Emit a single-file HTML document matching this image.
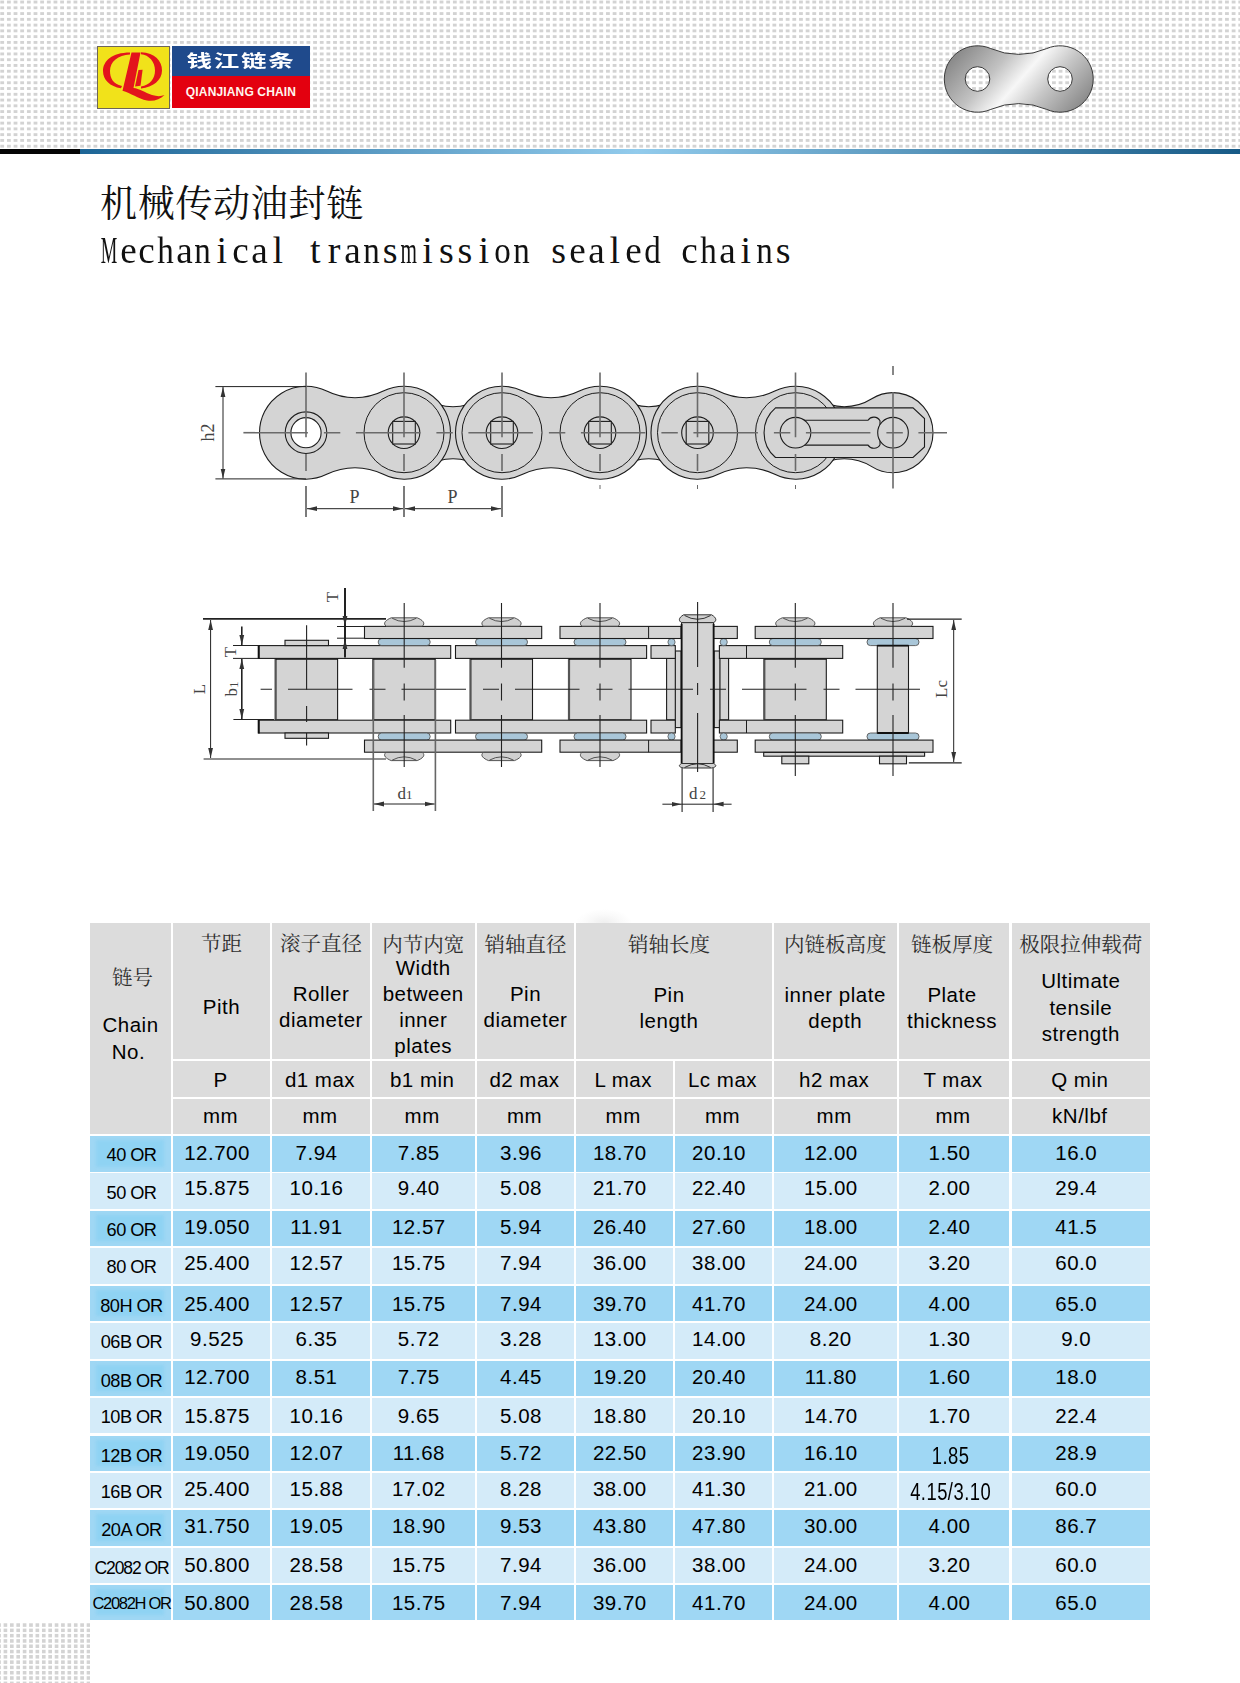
<!DOCTYPE html>
<html lang="zh"><head><meta charset="utf-8"><title>机械传动油封链 Mechanical transmission sealed chains</title>
<style>

html,body{margin:0;padding:0;background:#fff;}
body{width:1240px;height:1683px;position:relative;overflow:hidden;font-family:'Liberation Sans', 'Noto Sans CJK SC', sans-serif;color:#000;}
.a{position:absolute;white-space:nowrap;}
.dots{position:absolute;background-color:#d3d3d3;
 background-image:linear-gradient(90deg, rgba(255,255,255,0) 0, rgba(255,255,255,0) 3.4px, #fff 3.4px, #fff 100%),
  linear-gradient(180deg, rgba(255,255,255,0) 0, rgba(255,255,255,0) 3.1px, #fff 3.1px, #fff 100%);
 background-size:6.67px 5.77px;background-position:0.3px 0.6px;filter:blur(0.5px);}
.hdr{position:absolute;background:#dcdcdc;}
.cell{position:absolute;}
.dk{background:#9fd7f4;}
.lt{background:#d4ebf9;}
.zh{font-family:'Liberation Serif', 'Noto Serif CJK SC', serif;color:#3a3a3a;font-size:20.5px;}
.en{font-family:'Liberation Sans', 'Noto Sans CJK SC', sans-serif;font-size:20.5px;color:#000;}
.t{position:absolute;white-space:nowrap;text-align:center;line-height:1;}

</style></head><body>
<div class="dots" style="left:0;top:0;width:1240px;height:148px;"></div>
<div class="a" style="left:0;top:149px;width:80px;height:5px;background:#050505;"></div>
<div class="a" style="left:80px;top:149px;width:1160px;height:5px;background:linear-gradient(90deg,#1d6596 0%,#92cbec 48%,#175a86 100%);"></div>
<div class="a" style="left:97px;top:46px;width:71px;height:61px;background:#f1e21a;border:1px solid #6e6658;"></div>
<svg class="a" style="left:97px;top:46px" width="74" height="64" viewBox="97 46 74 64">
<g fill="#e3141c">
<path d="M130,52.5 C112,52.5 103,61 103,71 C103,80 110,86.5 121,88.3 L122,86 C113,84 110,78 110,71 C110,62 118,55 130,54.6 Z"/>
<path d="M141,52.3 C155,53 162,61 162,70.5 C162,80 153,87.5 141,88.5 L141,86.5 C150,85 155,78.5 155,70.5 C155,61.5 149,55 141,54.2 Z"/>
<path d="M131.5,52.5 L140.5,52.5 L133.5,88 C139,88.5 145,92.5 152,95 C157,96.5 161,96.5 164.5,95 C160,99.5 154,101.5 147,100.5 C138,99 131,93 122.5,90.8 Z"/>
<path d="M138.5,70 L142.6,69.8 L140.5,85.8 L135,86.5 Z"/>
</g></svg>
<div class="a" style="left:172px;top:46px;width:138px;height:30px;background:#1f4a8c;"></div>
<div class="a" style="left:172px;top:76px;width:138px;height:32px;background:#e3000f;"></div>
<div class="a" style="left:172px;top:47.6px;width:138px;height:24px;font-family:'Noto Sans CJK SC', sans-serif;font-weight:700;font-size:17.6px;color:#fff;line-height:24px;text-align:center;letter-spacing:1.2px;transform:scaleX(1.45);transform-origin:50% 50%;">钱江链条</div>
<div class="a" style="left:172px;top:85px;width:138px;text-align:center;font-family:'Liberation Sans', 'Noto Sans CJK SC', sans-serif;font-weight:700;font-size:12px;line-height:14px;letter-spacing:0.15px;color:#fff6ee;">QIANJIANG CHAIN</div>
<svg class="a" style="left:0;top:0" width="1240" height="150" viewBox="0 0 1240 150">
<defs><linearGradient id="plg" gradientUnits="userSpaceOnUse" x1="972" y1="38" x2="1068" y2="122">
<stop offset="0" stop-color="#8c8c8c"/><stop offset="0.3" stop-color="#c2c2c2"/><stop offset="0.5" stop-color="#f7f7f7"/>
<stop offset="0.7" stop-color="#c6c6c6"/><stop offset="1" stop-color="#8a8a8a"/></linearGradient></defs>
<path fill-rule="evenodd" fill="url(#plg)" stroke="#3a3a3a" stroke-width="1"
 d="M990.77,48.57 A70.03,70.03 0 0 0 1046.73,48.57 A33.2,33.2 0 1 1 1046.73,109.43 A70.03,70.03 0 0 0 990.77,109.43 A33.2,33.2 0 1 1 990.77,48.57 Z M989.8,79 A12.3,12.3 0 1 0 965.2,79 A12.3,12.3 0 1 0 989.8,79 Z M1072.3,79 A12.3,12.3 0 1 0 1047.7,79 A12.3,12.3 0 1 0 1072.3,79 Z"/>
</svg>
<div class="a" style="left:100px;top:175.5px;font-family:'Noto Serif CJK SC', serif;font-size:37px;letter-spacing:0.7px;line-height:50px;color:#111;">机械传动油封链</div>
<div class="a" style="left:100px;top:230px;font-family:'Liberation Serif',serif;font-size:38.0px;line-height:40px;color:#111;"><span style="display:inline-flex;justify-content:center;width:18.72px"><span style="display:inline-block;transform:scaleX(0.488)">M</span></span><span style="display:inline-flex;justify-content:center;width:18.72px"><span style="display:inline-block;transform:scaleX(0.978)">e</span></span><span style="display:inline-flex;justify-content:center;width:18.72px"><span style="display:inline-block;transform:scaleX(0.978)">c</span></span><span style="display:inline-flex;justify-content:center;width:18.72px"><span style="display:inline-block;transform:scaleX(0.868)">h</span></span><span style="display:inline-flex;justify-content:center;width:18.72px"><span style="display:inline-block;transform:scaleX(0.978)">a</span></span><span style="display:inline-flex;justify-content:center;width:18.72px"><span style="display:inline-block;transform:scaleX(0.868)">n</span></span><span style="display:inline-flex;justify-content:center;width:18.72px"><span style="display:inline-block;transform:scaleX(1.000)">i</span></span><span style="display:inline-flex;justify-content:center;width:18.72px"><span style="display:inline-block;transform:scaleX(0.978)">c</span></span><span style="display:inline-flex;justify-content:center;width:18.72px"><span style="display:inline-block;transform:scaleX(0.978)">a</span></span><span style="display:inline-flex;justify-content:center;width:18.72px"><span style="display:inline-block;transform:scaleX(1.000)">l</span></span><span style="display:inline-block;width:18.72px"> </span><span style="display:inline-flex;justify-content:center;width:18.72px"><span style="display:inline-block;transform:scaleX(1.000)">t</span></span><span style="display:inline-flex;justify-content:center;width:18.72px"><span style="display:inline-block;transform:scaleX(1.000)">r</span></span><span style="display:inline-flex;justify-content:center;width:18.72px"><span style="display:inline-block;transform:scaleX(0.978)">a</span></span><span style="display:inline-flex;justify-content:center;width:18.72px"><span style="display:inline-block;transform:scaleX(0.868)">n</span></span><span style="display:inline-flex;justify-content:center;width:18.72px"><span style="display:inline-block;transform:scaleX(1.000)">s</span></span><span style="display:inline-flex;justify-content:center;width:18.72px"><span style="display:inline-block;transform:scaleX(0.558)">m</span></span><span style="display:inline-flex;justify-content:center;width:18.72px"><span style="display:inline-block;transform:scaleX(1.000)">i</span></span><span style="display:inline-flex;justify-content:center;width:18.72px"><span style="display:inline-block;transform:scaleX(1.000)">s</span></span><span style="display:inline-flex;justify-content:center;width:18.72px"><span style="display:inline-block;transform:scaleX(1.000)">s</span></span><span style="display:inline-flex;justify-content:center;width:18.72px"><span style="display:inline-block;transform:scaleX(1.000)">i</span></span><span style="display:inline-flex;justify-content:center;width:18.72px"><span style="display:inline-block;transform:scaleX(0.868)">o</span></span><span style="display:inline-flex;justify-content:center;width:18.72px"><span style="display:inline-block;transform:scaleX(0.868)">n</span></span><span style="display:inline-block;width:18.72px"> </span><span style="display:inline-flex;justify-content:center;width:18.72px"><span style="display:inline-block;transform:scaleX(1.000)">s</span></span><span style="display:inline-flex;justify-content:center;width:18.72px"><span style="display:inline-block;transform:scaleX(0.978)">e</span></span><span style="display:inline-flex;justify-content:center;width:18.72px"><span style="display:inline-block;transform:scaleX(0.978)">a</span></span><span style="display:inline-flex;justify-content:center;width:18.72px"><span style="display:inline-block;transform:scaleX(1.000)">l</span></span><span style="display:inline-flex;justify-content:center;width:18.72px"><span style="display:inline-block;transform:scaleX(0.978)">e</span></span><span style="display:inline-flex;justify-content:center;width:18.72px"><span style="display:inline-block;transform:scaleX(0.868)">d</span></span><span style="display:inline-block;width:18.72px"> </span><span style="display:inline-flex;justify-content:center;width:18.72px"><span style="display:inline-block;transform:scaleX(0.978)">c</span></span><span style="display:inline-flex;justify-content:center;width:18.72px"><span style="display:inline-block;transform:scaleX(0.868)">h</span></span><span style="display:inline-flex;justify-content:center;width:18.72px"><span style="display:inline-block;transform:scaleX(0.978)">a</span></span><span style="display:inline-flex;justify-content:center;width:18.72px"><span style="display:inline-block;transform:scaleX(1.000)">i</span></span><span style="display:inline-flex;justify-content:center;width:18.72px"><span style="display:inline-block;transform:scaleX(0.868)">n</span></span><span style="display:inline-flex;justify-content:center;width:18.72px"><span style="display:inline-block;transform:scaleX(1.000)">s</span></span></div>
<svg class="a" style="left:0;top:0" width="1240" height="900" viewBox="0 0 1240 900">
<defs><marker id="ar" viewBox="0 0 10 6" refX="10" refY="3" markerWidth="10" markerHeight="6" markerUnits="userSpaceOnUse" orient="auto-start-reverse"><path d="M0,0.6 L10,3 L0,5.4 Z" fill="#333"/></marker></defs>
<g fill="#d4d4d4" stroke="#1c1c1c" stroke-width="1.1">
<path d="M425.13,398.74 A52.75,52.75 0 0 0 480.87,398.74 A40.0,40.0 0 1 1 480.87,466.66 A52.75,52.75 0 0 0 425.13,466.66 A40.0,40.0 0 1 1 425.13,398.74 Z"/>
<path d="M621.22,398.80 A51.88,51.88 0 0 0 676.28,398.80 A40.0,40.0 0 1 1 676.28,466.60 A51.88,51.88 0 0 0 621.22,466.60 A40.0,40.0 0 1 1 621.22,398.80 Z"/>
<path d="M816.72,398.80 A51.88,51.88 0 0 0 871.78,398.80 A40.0,40.0 0 1 1 871.78,466.60 A51.88,51.88 0 0 0 816.72,466.60 A40.0,40.0 0 1 1 816.72,398.80 Z"/>
<path d="M326.69,391.06 A63.64,63.64 0 0 0 383.31,391.06 A46.5,46.5 0 1 1 383.31,474.34 A63.64,63.64 0 0 0 326.69,474.34 A46.5,46.5 0 1 1 326.69,391.06 Z"/>
<path d="M522.69,391.06 A63.64,63.64 0 0 0 579.31,391.06 A46.5,46.5 0 1 1 579.31,474.34 A63.64,63.64 0 0 0 522.69,474.34 A46.5,46.5 0 1 1 522.69,391.06 Z"/>
<path d="M718.19,391.06 A63.64,63.64 0 0 0 774.81,391.06 A46.5,46.5 0 1 1 774.81,474.34 A63.64,63.64 0 0 0 718.19,474.34 A46.5,46.5 0 1 1 718.19,391.06 Z"/>
</g>
<g fill="none" stroke="#1c1c1c" stroke-width="1">
<circle cx="404.0" cy="432.7" r="40.0"/>
<circle cx="502.0" cy="432.7" r="40.0"/>
<circle cx="600.0" cy="432.7" r="40.0"/>
<circle cx="697.5" cy="432.7" r="40.0"/>
<circle cx="795.5" cy="432.7" r="40.0"/>
</g>
<circle cx="306.0" cy="432.7" r="20.8" fill="#d4d4d4" stroke="#1c1c1c" stroke-width="1.1"/>
<circle cx="306.0" cy="432.7" r="15.1" fill="#fff" stroke="#1c1c1c" stroke-width="1.1"/>
<circle cx="404.0" cy="432.7" r="15.8" fill="#d4d4d4" stroke="#1c1c1c" stroke-width="1.1"/>
<rect x="392.7" y="421.4" width="22.6" height="22.6" fill="#d4d4d4" stroke="#1c1c1c" stroke-width="1.1"/>
<circle cx="502.0" cy="432.7" r="15.8" fill="#d4d4d4" stroke="#1c1c1c" stroke-width="1.1"/>
<rect x="490.7" y="421.4" width="22.6" height="22.6" fill="#d4d4d4" stroke="#1c1c1c" stroke-width="1.1"/>
<circle cx="600.0" cy="432.7" r="15.8" fill="#d4d4d4" stroke="#1c1c1c" stroke-width="1.1"/>
<rect x="588.7" y="421.4" width="22.6" height="22.6" fill="#d4d4d4" stroke="#1c1c1c" stroke-width="1.1"/>
<circle cx="697.5" cy="432.7" r="15.8" fill="#d4d4d4" stroke="#1c1c1c" stroke-width="1.1"/>
<rect x="686.2" y="421.4" width="22.6" height="22.6" fill="#d4d4d4" stroke="#1c1c1c" stroke-width="1.1"/>
<path d="M775.5,407.9 L913,407.9 L924.5,418.5 L924.5,446.9 L913,457.5 L775.5,457.5 A32.6,32.6 0 0 1 775.5,407.9 Z" fill="#d4d4d4" stroke="#1c1c1c" stroke-width="1.1"/>
<path d="M803.5,420.3 L868.0,420.3 A7,7 0 0 1 880.0,420.7 L880.0,444.7 A7,7 0 0 1 868.0,445.09999999999997 L803.5,445.09999999999997" fill="none" stroke="#1c1c1c" stroke-width="1.1"/>
<circle cx="795.5" cy="432.7" r="15.3" fill="#d4d4d4" stroke="#1c1c1c" stroke-width="1.1"/>
<circle cx="893.0" cy="432.7" r="15.3" fill="#d4d4d4" stroke="#1c1c1c" stroke-width="1.1"/>
<g stroke="#6a6a6a" stroke-width="1.6" fill="none">
<path d="M243.4,432.7 H947" stroke-dasharray="64.5 16 16.4 15.6" stroke-dashoffset="0"/>
<path d="M306.0,372.4 V437.2 M306.0,454 V471"/>
<path d="M404.0,372.4 V437.2 M404.0,454 V471"/>
<path d="M502.0,372.4 V437.2 M502.0,454 V471"/>
<path d="M600.0,372.4 V437.2 M600.0,454 V471"/>
<path d="M600.0,485 V489" stroke-width="1"/>
<path d="M697.5,372.4 V437.2 M697.5,454 V471"/>
<path d="M697.5,485 V489" stroke-width="1"/>
<path d="M795.5,372.4 V437.2 M795.5,454 V471"/>
<path d="M795.5,485 V489" stroke-width="1"/>
<path d="M893.0,366 V375 M893.0,392 V488.6"/>
</g>
<g stroke="#222" stroke-width="1" fill="none">
<path d="M215.4,386.6 H306 M215.4,478.9 H306"/>
<path d="M223,387 V478.5" marker-start="url(#ar)" marker-end="url(#ar)"/>
<path d="M306.0,486 V517 M404.0,486 V517 M502.0,486 V517" stroke="#444" stroke-width="1.4"/>
<path d="M307.0,508.7 H403.0" marker-start="url(#ar)" marker-end="url(#ar)"/>
<path d="M405.0,508.7 H501.0" marker-start="url(#ar)" marker-end="url(#ar)"/>
</g>
<g font-family="Liberation Serif, serif" fill="#444" font-size="18">
<text x="354.5" y="503" text-anchor="middle">P</text>
<text x="452.5" y="503" text-anchor="middle">P</text>
<text transform="translate(214,432.5) rotate(-90)" text-anchor="middle" font-size="18">h2</text>
</g>
<rect x="275.60" y="658.40" width="62.00" height="61.40" fill="#d4d4d4" stroke="#1c1c1c" stroke-width="1.1" />
<path d="M275.6,658.4 V719.8" stroke="#555" stroke-width="2.2"/>
<path d="M275.6,658.9 H337.6" stroke="#111" stroke-width="1.8"/>
<rect x="373.20" y="658.40" width="62.00" height="61.40" fill="#d4d4d4" stroke="#1c1c1c" stroke-width="1.1" />
<path d="M373.2,658.4 V719.8" stroke="#555" stroke-width="2.2"/>
<path d="M373.2,658.9 H435.2" stroke="#111" stroke-width="1.8"/>
<rect x="470.50" y="658.40" width="62.00" height="61.40" fill="#d4d4d4" stroke="#1c1c1c" stroke-width="1.1" />
<path d="M470.5,658.4 V719.8" stroke="#555" stroke-width="2.2"/>
<path d="M470.5,658.9 H532.5" stroke="#111" stroke-width="1.8"/>
<rect x="569.00" y="658.40" width="62.00" height="61.40" fill="#d4d4d4" stroke="#1c1c1c" stroke-width="1.1" />
<path d="M569.0,658.4 V719.8" stroke="#555" stroke-width="2.2"/>
<path d="M569.0,658.9 H631.0" stroke="#111" stroke-width="1.8"/>
<rect x="764.30" y="658.40" width="62.00" height="61.40" fill="#d4d4d4" stroke="#1c1c1c" stroke-width="1.1" />
<path d="M764.3,658.4 V719.8" stroke="#555" stroke-width="2.2"/>
<path d="M764.3,658.9 H826.3" stroke="#111" stroke-width="1.8"/>
<rect x="666.60" y="658.40" width="9.00" height="61.40" fill="#d4d4d4" stroke="#1c1c1c" stroke-width="1.1" />
<rect x="719.60" y="658.40" width="9.00" height="61.40" fill="#d4d4d4" stroke="#1c1c1c" stroke-width="1.1" />
<rect x="675.30" y="651.00" width="5.80" height="76.60" fill="#d4d4d4" stroke="#1c1c1c" stroke-width="1.1" />
<rect x="714.10" y="651.00" width="5.80" height="76.60" fill="#d4d4d4" stroke="#1c1c1c" stroke-width="1.1" />
<rect x="258.70" y="645.60" width="192.00" height="12.80" fill="#d4d4d4" stroke="#1c1c1c" stroke-width="1.1" />
<rect x="258.70" y="720.20" width="192.00" height="12.80" fill="#d4d4d4" stroke="#1c1c1c" stroke-width="1.1" />
<rect x="455.50" y="645.60" width="191.10" height="12.80" fill="#d4d4d4" stroke="#1c1c1c" stroke-width="1.1" />
<rect x="455.50" y="720.20" width="191.10" height="12.80" fill="#d4d4d4" stroke="#1c1c1c" stroke-width="1.1" />
<rect x="651.00" y="645.60" width="24.30" height="12.80" fill="#d4d4d4" stroke="#1c1c1c" stroke-width="1.1" />
<rect x="651.00" y="720.20" width="24.30" height="12.80" fill="#d4d4d4" stroke="#1c1c1c" stroke-width="1.1" />
<rect x="719.40" y="645.60" width="123.30" height="12.80" fill="#d4d4d4" stroke="#1c1c1c" stroke-width="1.1" />
<rect x="719.40" y="720.20" width="123.30" height="12.80" fill="#d4d4d4" stroke="#1c1c1c" stroke-width="1.1" />
<path d="M258.7,645 V659 M258.7,719.2 V733.6" stroke="#111" stroke-width="2"/>
<path d="M746.5,645.6 V658.4 M746.5,720.2 V733" stroke="#1c1c1c" stroke-width="1"/>
<rect x="378.2" y="638.5" width="52" height="7.1" rx="3.5" fill="#a9c6d8" stroke="#555" stroke-width="0.9"/>
<rect x="378.2" y="732.9999999999999" width="52" height="7.1" rx="3.5" fill="#a9c6d8" stroke="#555" stroke-width="0.9"/>
<rect x="475.5" y="638.5" width="52" height="7.1" rx="3.5" fill="#a9c6d8" stroke="#555" stroke-width="0.9"/>
<rect x="475.5" y="732.9999999999999" width="52" height="7.1" rx="3.5" fill="#a9c6d8" stroke="#555" stroke-width="0.9"/>
<rect x="574.0" y="638.5" width="52" height="7.1" rx="3.5" fill="#a9c6d8" stroke="#555" stroke-width="0.9"/>
<rect x="574.0" y="732.9999999999999" width="52" height="7.1" rx="3.5" fill="#a9c6d8" stroke="#555" stroke-width="0.9"/>
<rect x="769.3" y="638.5" width="52" height="7.1" rx="3.5" fill="#a9c6d8" stroke="#555" stroke-width="0.9"/>
<rect x="769.3" y="732.9999999999999" width="52" height="7.1" rx="3.5" fill="#a9c6d8" stroke="#555" stroke-width="0.9"/>
<rect x="867.0" y="638.5" width="52" height="7.1" rx="3.5" fill="#a9c6d8" stroke="#555" stroke-width="0.9"/>
<rect x="867.0" y="732.9999999999999" width="52" height="7.1" rx="3.5" fill="#a9c6d8" stroke="#555" stroke-width="0.9"/>
<circle cx="671.5" cy="642.1" r="3.6" fill="#a9c6d8" stroke="#555" stroke-width="0.8"/>
<circle cx="671.5" cy="736.4999999999999" r="3.6" fill="#a9c6d8" stroke="#555" stroke-width="0.8"/>
<circle cx="723.7" cy="642.1" r="3.6" fill="#a9c6d8" stroke="#555" stroke-width="0.8"/>
<circle cx="723.7" cy="736.4999999999999" r="3.6" fill="#a9c6d8" stroke="#555" stroke-width="0.8"/>
<rect x="364.50" y="626.40" width="177.20" height="12.10" fill="#d4d4d4" stroke="#1c1c1c" stroke-width="1.1" />
<rect x="364.50" y="740.10" width="177.20" height="12.10" fill="#d4d4d4" stroke="#1c1c1c" stroke-width="1.1" />
<rect x="560.00" y="626.40" width="121.00" height="12.10" fill="#d4d4d4" stroke="#1c1c1c" stroke-width="1.1" />
<rect x="560.00" y="740.10" width="121.00" height="12.10" fill="#d4d4d4" stroke="#1c1c1c" stroke-width="1.1" />
<rect x="713.00" y="626.40" width="24.30" height="12.10" fill="#d4d4d4" stroke="#1c1c1c" stroke-width="1.1" />
<rect x="713.00" y="740.10" width="24.30" height="12.10" fill="#d4d4d4" stroke="#1c1c1c" stroke-width="1.1" />
<rect x="755.20" y="626.40" width="177.80" height="12.10" fill="#d4d4d4" stroke="#1c1c1c" stroke-width="1.1" />
<rect x="755.20" y="740.10" width="177.80" height="12.10" fill="#d4d4d4" stroke="#1c1c1c" stroke-width="1.1" />
<path d="M648.6,626.4 V638.5 M648.6,740 V752.2" stroke="#1c1c1c" stroke-width="1"/>
<rect x="285.00" y="640.30" width="43.50" height="5.30" fill="#d4d4d4" stroke="#1c1c1c" stroke-width="1.1" />
<rect x="285.00" y="733.00" width="43.50" height="5.30" fill="#d4d4d4" stroke="#1c1c1c" stroke-width="1.1" />
<path d="M386.2,626.2 C382.2,623.2 386.2,619.8 391.2,617.8 L417.2,617.8 C422.2,619.8 426.2,623.2 422.2,626.2 Z" fill="#d0d0d0" stroke="#444" stroke-width="0.9"/><path d="M392.2,618.3 Q404.2,624.8 416.2,618.3" fill="none" stroke="#444" stroke-width="0.9"/>
<path d="M483.5,626.2 C479.5,623.2 483.5,619.8 488.5,617.8 L514.5,617.8 C519.5,619.8 523.5,623.2 519.5,626.2 Z" fill="#d0d0d0" stroke="#444" stroke-width="0.9"/><path d="M489.5,618.3 Q501.5,624.8 513.5,618.3" fill="none" stroke="#444" stroke-width="0.9"/>
<path d="M582.0,626.2 C578.0,623.2 582.0,619.8 587.0,617.8 L613.0,617.8 C618.0,619.8 622.0,623.2 618.0,626.2 Z" fill="#d0d0d0" stroke="#444" stroke-width="0.9"/><path d="M588.0,618.3 Q600.0,624.8 612.0,618.3" fill="none" stroke="#444" stroke-width="0.9"/>
<path d="M777.3,626.2 C773.3,623.2 777.3,619.8 782.3,617.8 L808.3,617.8 C813.3,619.8 817.3,623.2 813.3,626.2 Z" fill="#d0d0d0" stroke="#444" stroke-width="0.9"/><path d="M783.3,618.3 Q795.3,624.8 807.3,618.3" fill="none" stroke="#444" stroke-width="0.9"/>
<path d="M875.0,626.2 C871.0,623.2 875.0,619.8 880.0,617.8 L906.0,617.8 C911.0,619.8 915.0,623.2 911.0,626.2 Z" fill="#d0d0d0" stroke="#444" stroke-width="0.9"/><path d="M881.0,618.3 Q893.0,624.8 905.0,618.3" fill="none" stroke="#444" stroke-width="0.9"/>
<path d="M386.2,752.4 C382.2,755.4 386.2,758.6 391.2,760.6 L417.2,760.6 C422.2,758.6 426.2,755.4 422.2,752.4 Z" fill="#d0d0d0" stroke="#444" stroke-width="0.9"/><path d="M392.2,760.1 Q404.2,753.6 416.2,760.1" fill="none" stroke="#444" stroke-width="0.9"/>
<path d="M483.5,752.4 C479.5,755.4 483.5,758.6 488.5,760.6 L514.5,760.6 C519.5,758.6 523.5,755.4 519.5,752.4 Z" fill="#d0d0d0" stroke="#444" stroke-width="0.9"/><path d="M489.5,760.1 Q501.5,753.6 513.5,760.1" fill="none" stroke="#444" stroke-width="0.9"/>
<path d="M582.0,752.4 C578.0,755.4 582.0,758.6 587.0,760.6 L613.0,760.6 C618.0,758.6 622.0,755.4 618.0,752.4 Z" fill="#d0d0d0" stroke="#444" stroke-width="0.9"/><path d="M588.0,760.1 Q600.0,753.6 612.0,760.1" fill="none" stroke="#444" stroke-width="0.9"/>
<rect x="763.70" y="752.40" width="160.90" height="3.80" fill="#d4d4d4" stroke="#1c1c1c" stroke-width="1.1" />
<rect x="781.80" y="756.20" width="27.00" height="7.60" fill="#d4d4d4" stroke="#1c1c1c" stroke-width="1.1" />
<rect x="879.50" y="756.20" width="27.00" height="7.60" fill="#d4d4d4" stroke="#1c1c1c" stroke-width="1.1" />
<rect x="877.30" y="645.60" width="31.20" height="87.40" fill="#d4d4d4" stroke="#1c1c1c" stroke-width="1.1" />
<path d="M877.3,733 H908.5 M877.3,645.6 H908.5" stroke="#111" stroke-width="1.8"/>
<rect x="681.60" y="622.50" width="32.00" height="142.00" fill="#d4d4d4" stroke="#1c1c1c" stroke-width="1.1" />
<path d="M681.6,624 V763 M713.6,624 V763" stroke="#111" stroke-width="1.8"/>
<path d="M681.6,622.6 C678.6,621 678.1,618 683.6,614.8 L711.6,614.8 C717.1,618 716.6,621 713.6,622.6 Z" fill="#d0d0d0" stroke="#333" stroke-width="1"/>
<path d="M684.6,615.5 Q697.6,623 710.6,615.5" fill="none" stroke="#333" stroke-width="1"/>
<path d="M681.6,763.5 C678.6,765 678.1,767 683.6,768 L711.6,768 C717.1,767 716.6,765 713.6,763.5 Z" fill="#d0d0d0" stroke="#333" stroke-width="1"/>
<path d="M684.6,767.5 Q697.6,760 710.6,767.5" fill="none" stroke="#333" stroke-width="1"/>
<g stroke="#222" stroke-width="1.1" fill="none">
<path d="M260.6,689.3 H920" stroke-dasharray="64.5 17 16 16" stroke-dashoffset="86.1"/>
<path d="M306.6,625.3 V689.8 M306.6,706 V722 M306.6,733 V745.5"/>
<path d="M404.2,603 V667.7 M404.2,683.5 V700.5 M404.2,715 V767"/>
<path d="M501.5,603 V667.7 M501.5,683.5 V700.5 M501.5,715 V767"/>
<path d="M600.0,603 V667.7 M600.0,683.5 V700.5 M600.0,715 V767"/>
<path d="M697.6,602 V667 M697.6,683 V695 M697.6,713 V772"/>
<path d="M795.3,603 V667.7 M795.3,683.5 V700.5 M795.3,715 V776"/>
<path d="M893.0,603 V667.7 M893.0,683.5 V700.5 M893.0,715 V776"/>
</g>
<g stroke="#222" stroke-width="1" fill="none">
<path d="M203,618.9 H386" stroke-width="1.8"/>
<path d="M203.6,759 H386" stroke-width="1.2"/>
<path d="M210.6,620 V758" marker-start="url(#ar)" marker-end="url(#ar)"/>
<path d="M345,588 V657.6" stroke-width="2"/>
<path d="M337,626.5 H364.5 M337,638.2 H364.5"/>
<path d="M345,612 V626" marker-end="url(#ar)" stroke-width="1.2"/>
<path d="M345,652 V639" marker-end="url(#ar)" stroke-width="1.2"/>
<path d="M233,645.5 H258.7 M233,658.4 H258.7 M233.4,719.5 H274"/>
<path d="M241.8,626.6 V645" marker-end="url(#ar)" stroke-width="1.6"/>
<path d="M241.8,659 V719" marker-start="url(#ar)" marker-end="url(#ar)" stroke-width="1.6"/>
<path d="M373.3,660 V811 M435.4,660 V811" stroke="#666" stroke-width="1.6"/>
<path d="M374,804 H434.6" marker-start="url(#ar)" marker-end="url(#ar)"/>
<path d="M682.1,768 V812 M713.1,768 V812" stroke="#444" stroke-width="1.3"/>
<path d="M662.4,804.2 H681.6" marker-end="url(#ar)"/>
<path d="M731.6,804.2 H713.6" marker-end="url(#ar)"/>
<path d="M681.6,804.2 H713.6"/>
<path d="M907,619.1 H961.7 M908.8,762.9 H961.7" stroke-width="1.2"/>
<path d="M953.7,620 V762" marker-start="url(#ar)" marker-end="url(#ar)"/>
</g>
<g font-family="Liberation Serif, serif" fill="#444" font-size="17">
<text transform="translate(205,689) rotate(-90)" text-anchor="middle">L</text>
<text transform="translate(237,689) rotate(-90)" text-anchor="middle">b<tspan font-size="13" dy="1">1</tspan></text>
<text transform="translate(236,652) rotate(-90)" text-anchor="middle">T</text>
<text transform="translate(338,597) rotate(-90)" text-anchor="middle">T</text>
<text x="405" y="799" text-anchor="middle">d<tspan font-size="13">1</tspan></text>
<text x="697.6" y="799" text-anchor="middle">d<tspan font-size="13" dx="2">2</tspan></text>
<text transform="translate(947,689) rotate(-90)" text-anchor="middle">Lc</text>
</g>
</svg>
<div class="hdr" style="left:90px;top:923px;width:81px;height:211px;"></div>
<div class="hdr" style="left:173px;top:923px;width:97px;height:136px;"></div>
<div class="hdr" style="left:173px;top:1061px;width:97px;height:36px;"></div>
<div class="hdr" style="left:173px;top:1099px;width:97px;height:35px;"></div>
<div class="hdr" style="left:272px;top:923px;width:98px;height:136px;"></div>
<div class="hdr" style="left:272px;top:1061px;width:98px;height:36px;"></div>
<div class="hdr" style="left:272px;top:1099px;width:98px;height:35px;"></div>
<div class="hdr" style="left:372px;top:923px;width:102.5px;height:136px;"></div>
<div class="hdr" style="left:372px;top:1061px;width:102.5px;height:36px;"></div>
<div class="hdr" style="left:372px;top:1099px;width:102.5px;height:35px;"></div>
<div class="hdr" style="left:477px;top:923px;width:97px;height:136px;"></div>
<div class="hdr" style="left:477px;top:1061px;width:97px;height:36px;"></div>
<div class="hdr" style="left:477px;top:1099px;width:97px;height:35px;"></div>
<div class="hdr" style="left:576px;top:923px;width:196px;height:136px;"></div>
<div class="hdr" style="left:576px;top:1061px;width:96.5px;height:36px;"></div>
<div class="hdr" style="left:576px;top:1099px;width:96.5px;height:35px;"></div>
<div class="hdr" style="left:675px;top:1061px;width:97px;height:36px;"></div>
<div class="hdr" style="left:675px;top:1099px;width:97px;height:35px;"></div>
<div class="hdr" style="left:774px;top:923px;width:122.5px;height:136px;"></div>
<div class="hdr" style="left:774px;top:1061px;width:122.5px;height:36px;"></div>
<div class="hdr" style="left:774px;top:1099px;width:122.5px;height:35px;"></div>
<div class="hdr" style="left:899px;top:923px;width:110px;height:136px;"></div>
<div class="hdr" style="left:899px;top:1061px;width:110px;height:36px;"></div>
<div class="hdr" style="left:899px;top:1099px;width:110px;height:35px;"></div>
<div class="hdr" style="left:1011.5px;top:923px;width:138.5px;height:136px;"></div>
<div class="hdr" style="left:1011.5px;top:1061px;width:138.5px;height:36px;"></div>
<div class="hdr" style="left:1011.5px;top:1099px;width:138.5px;height:35px;"></div>
<div class="t" style="left:12.5px;width:240px;top:967.80px;font-family:'Liberation Serif', 'Noto Serif CJK SC', serif;font-size:20.5px;color:#2e2e2e;line-height:20.5px">链号</div>
<div class="t" style="left:10.5px;width:240px;top:1012.95px;font-family:'Liberation Sans', 'Noto Sans CJK SC', sans-serif;font-size:20.5px;letter-spacing:0.5px;color:#000;font-weight:400;line-height:23.57px;height:23.57px">Chain</div>
<div class="t" style="left:8.5px;width:240px;top:1040.05px;font-family:'Liberation Sans', 'Noto Sans CJK SC', sans-serif;font-size:20.5px;letter-spacing:0.5px;color:#000;font-weight:400;line-height:23.57px;height:23.57px">No.</div>
<div class="t" style="left:101.5px;width:240px;top:934.30px;font-family:'Liberation Serif', 'Noto Serif CJK SC', serif;font-size:20.5px;color:#2e2e2e;line-height:20.5px">节距</div>
<div class="t" style="left:101.5px;width:240px;top:995.35px;font-family:'Liberation Sans', 'Noto Sans CJK SC', sans-serif;font-size:20.5px;letter-spacing:0.5px;color:#000;font-weight:400;line-height:23.57px;height:23.57px">Pith</div>
<div class="t" style="left:201.0px;width:240px;top:934.30px;font-family:'Liberation Serif', 'Noto Serif CJK SC', serif;font-size:20.5px;color:#2e2e2e;line-height:20.5px">滚子直径</div>
<div class="t" style="left:201.0px;width:240px;top:982.45px;font-family:'Liberation Sans', 'Noto Sans CJK SC', sans-serif;font-size:20.5px;letter-spacing:0.5px;color:#000;font-weight:400;line-height:23.57px;height:23.57px">Roller</div>
<div class="t" style="left:201.0px;width:240px;top:1008.05px;font-family:'Liberation Sans', 'Noto Sans CJK SC', sans-serif;font-size:20.5px;letter-spacing:0.5px;color:#000;font-weight:400;line-height:23.57px;height:23.57px">diameter</div>
<div class="t" style="left:303.2px;width:240px;top:934.80px;font-family:'Liberation Serif', 'Noto Serif CJK SC', serif;font-size:20.5px;color:#2e2e2e;line-height:20.5px">内节内宽</div>
<div class="t" style="left:303.2px;width:240px;top:955.95px;font-family:'Liberation Sans', 'Noto Sans CJK SC', sans-serif;font-size:20.5px;letter-spacing:0.5px;color:#000;font-weight:400;line-height:23.57px;height:23.57px">Width</div>
<div class="t" style="left:303.2px;width:240px;top:981.85px;font-family:'Liberation Sans', 'Noto Sans CJK SC', sans-serif;font-size:20.5px;letter-spacing:0.5px;color:#000;font-weight:400;line-height:23.57px;height:23.57px">between</div>
<div class="t" style="left:303.2px;width:240px;top:1008.05px;font-family:'Liberation Sans', 'Noto Sans CJK SC', sans-serif;font-size:20.5px;letter-spacing:0.5px;color:#000;font-weight:400;line-height:23.57px;height:23.57px">inner</div>
<div class="t" style="left:303.2px;width:240px;top:1034.35px;font-family:'Liberation Sans', 'Noto Sans CJK SC', sans-serif;font-size:20.5px;letter-spacing:0.5px;color:#000;font-weight:400;line-height:23.57px;height:23.57px">plates</div>
<div class="t" style="left:405.5px;width:240px;top:934.80px;font-family:'Liberation Serif', 'Noto Serif CJK SC', serif;font-size:20.5px;color:#2e2e2e;line-height:20.5px">销轴直径</div>
<div class="t" style="left:405.5px;width:240px;top:981.85px;font-family:'Liberation Sans', 'Noto Sans CJK SC', sans-serif;font-size:20.5px;letter-spacing:0.5px;color:#000;font-weight:400;line-height:23.57px;height:23.57px">Pin</div>
<div class="t" style="left:405.5px;width:240px;top:1008.05px;font-family:'Liberation Sans', 'Noto Sans CJK SC', sans-serif;font-size:20.5px;letter-spacing:0.5px;color:#000;font-weight:400;line-height:23.57px;height:23.57px">diameter</div>
<div class="t" style="left:549.0px;width:240px;top:934.80px;font-family:'Liberation Serif', 'Noto Serif CJK SC', serif;font-size:20.5px;color:#2e2e2e;line-height:20.5px">销轴长度</div>
<div class="t" style="left:549.0px;width:240px;top:983.05px;font-family:'Liberation Sans', 'Noto Sans CJK SC', sans-serif;font-size:20.5px;letter-spacing:0.5px;color:#000;font-weight:400;line-height:23.57px;height:23.57px">Pin</div>
<div class="t" style="left:549.0px;width:240px;top:1008.85px;font-family:'Liberation Sans', 'Noto Sans CJK SC', sans-serif;font-size:20.5px;letter-spacing:0.5px;color:#000;font-weight:400;line-height:23.57px;height:23.57px">length</div>
<div class="t" style="left:715.2px;width:240px;top:934.80px;font-family:'Liberation Serif', 'Noto Serif CJK SC', serif;font-size:20.5px;color:#2e2e2e;line-height:20.5px">内链板高度</div>
<div class="t" style="left:715.2px;width:240px;top:983.05px;font-family:'Liberation Sans', 'Noto Sans CJK SC', sans-serif;font-size:20.5px;letter-spacing:0.5px;color:#000;font-weight:400;line-height:23.57px;height:23.57px">inner plate</div>
<div class="t" style="left:715.2px;width:240px;top:1008.85px;font-family:'Liberation Sans', 'Noto Sans CJK SC', sans-serif;font-size:20.5px;letter-spacing:0.5px;color:#000;font-weight:400;line-height:23.57px;height:23.57px">depth</div>
<div class="t" style="left:832.0px;width:240px;top:934.80px;font-family:'Liberation Serif', 'Noto Serif CJK SC', serif;font-size:20.5px;color:#2e2e2e;line-height:20.5px">链板厚度</div>
<div class="t" style="left:832.0px;width:240px;top:983.05px;font-family:'Liberation Sans', 'Noto Sans CJK SC', sans-serif;font-size:20.5px;letter-spacing:0.5px;color:#000;font-weight:400;line-height:23.57px;height:23.57px">Plate</div>
<div class="t" style="left:832.0px;width:240px;top:1008.85px;font-family:'Liberation Sans', 'Noto Sans CJK SC', sans-serif;font-size:20.5px;letter-spacing:0.5px;color:#000;font-weight:400;line-height:23.57px;height:23.57px">thickness</div>
<div class="t" style="left:960.8px;width:240px;top:934.80px;font-family:'Liberation Serif', 'Noto Serif CJK SC', serif;font-size:20.5px;color:#2e2e2e;line-height:20.5px">极限拉伸载荷</div>
<div class="t" style="left:960.8px;width:240px;top:969.45px;font-family:'Liberation Sans', 'Noto Sans CJK SC', sans-serif;font-size:20.5px;letter-spacing:0.5px;color:#000;font-weight:400;line-height:23.57px;height:23.57px">Ultimate</div>
<div class="t" style="left:960.8px;width:240px;top:995.75px;font-family:'Liberation Sans', 'Noto Sans CJK SC', sans-serif;font-size:20.5px;letter-spacing:0.5px;color:#000;font-weight:400;line-height:23.57px;height:23.57px">tensile</div>
<div class="t" style="left:960.8px;width:240px;top:1022.45px;font-family:'Liberation Sans', 'Noto Sans CJK SC', sans-serif;font-size:20.5px;letter-spacing:0.5px;color:#000;font-weight:400;line-height:23.57px;height:23.57px">strength</div>
<div class="t" style="left:100.5px;width:240px;top:1067.55px;font-family:'Liberation Sans', 'Noto Sans CJK SC', sans-serif;font-size:20.5px;letter-spacing:0.5px;color:#000;font-weight:400;line-height:23.57px;height:23.57px">P</div>
<div class="t" style="left:100.5px;width:240px;top:1104.45px;font-family:'Liberation Sans', 'Noto Sans CJK SC', sans-serif;font-size:20.5px;letter-spacing:0.5px;color:#000;font-weight:400;line-height:23.57px;height:23.57px">mm</div>
<div class="t" style="left:200.0px;width:240px;top:1067.55px;font-family:'Liberation Sans', 'Noto Sans CJK SC', sans-serif;font-size:20.5px;letter-spacing:0.5px;color:#000;font-weight:400;line-height:23.57px;height:23.57px">d1 max</div>
<div class="t" style="left:200.0px;width:240px;top:1104.45px;font-family:'Liberation Sans', 'Noto Sans CJK SC', sans-serif;font-size:20.5px;letter-spacing:0.5px;color:#000;font-weight:400;line-height:23.57px;height:23.57px">mm</div>
<div class="t" style="left:302.2px;width:240px;top:1067.55px;font-family:'Liberation Sans', 'Noto Sans CJK SC', sans-serif;font-size:20.5px;letter-spacing:0.5px;color:#000;font-weight:400;line-height:23.57px;height:23.57px">b1 min</div>
<div class="t" style="left:302.2px;width:240px;top:1104.45px;font-family:'Liberation Sans', 'Noto Sans CJK SC', sans-serif;font-size:20.5px;letter-spacing:0.5px;color:#000;font-weight:400;line-height:23.57px;height:23.57px">mm</div>
<div class="t" style="left:404.5px;width:240px;top:1067.55px;font-family:'Liberation Sans', 'Noto Sans CJK SC', sans-serif;font-size:20.5px;letter-spacing:0.5px;color:#000;font-weight:400;line-height:23.57px;height:23.57px">d2 max</div>
<div class="t" style="left:404.5px;width:240px;top:1104.45px;font-family:'Liberation Sans', 'Noto Sans CJK SC', sans-serif;font-size:20.5px;letter-spacing:0.5px;color:#000;font-weight:400;line-height:23.57px;height:23.57px">mm</div>
<div class="t" style="left:503.2px;width:240px;top:1067.55px;font-family:'Liberation Sans', 'Noto Sans CJK SC', sans-serif;font-size:20.5px;letter-spacing:0.5px;color:#000;font-weight:400;line-height:23.57px;height:23.57px">L max</div>
<div class="t" style="left:503.2px;width:240px;top:1104.45px;font-family:'Liberation Sans', 'Noto Sans CJK SC', sans-serif;font-size:20.5px;letter-spacing:0.5px;color:#000;font-weight:400;line-height:23.57px;height:23.57px">mm</div>
<div class="t" style="left:602.5px;width:240px;top:1067.55px;font-family:'Liberation Sans', 'Noto Sans CJK SC', sans-serif;font-size:20.5px;letter-spacing:0.5px;color:#000;font-weight:400;line-height:23.57px;height:23.57px">Lc max</div>
<div class="t" style="left:602.5px;width:240px;top:1104.45px;font-family:'Liberation Sans', 'Noto Sans CJK SC', sans-serif;font-size:20.5px;letter-spacing:0.5px;color:#000;font-weight:400;line-height:23.57px;height:23.57px">mm</div>
<div class="t" style="left:714.2px;width:240px;top:1067.55px;font-family:'Liberation Sans', 'Noto Sans CJK SC', sans-serif;font-size:20.5px;letter-spacing:0.5px;color:#000;font-weight:400;line-height:23.57px;height:23.57px">h2 max</div>
<div class="t" style="left:714.2px;width:240px;top:1104.45px;font-family:'Liberation Sans', 'Noto Sans CJK SC', sans-serif;font-size:20.5px;letter-spacing:0.5px;color:#000;font-weight:400;line-height:23.57px;height:23.57px">mm</div>
<div class="t" style="left:833.0px;width:240px;top:1067.55px;font-family:'Liberation Sans', 'Noto Sans CJK SC', sans-serif;font-size:20.5px;letter-spacing:0.5px;color:#000;font-weight:400;line-height:23.57px;height:23.57px">T max</div>
<div class="t" style="left:833.0px;width:240px;top:1104.45px;font-family:'Liberation Sans', 'Noto Sans CJK SC', sans-serif;font-size:20.5px;letter-spacing:0.5px;color:#000;font-weight:400;line-height:23.57px;height:23.57px">mm</div>
<div class="t" style="left:959.8px;width:240px;top:1067.55px;font-family:'Liberation Sans', 'Noto Sans CJK SC', sans-serif;font-size:20.5px;letter-spacing:0.5px;color:#000;font-weight:400;line-height:23.57px;height:23.57px">Q min</div>
<div class="t" style="left:959.8px;width:240px;top:1104.45px;font-family:'Liberation Sans', 'Noto Sans CJK SC', sans-serif;font-size:20.5px;letter-spacing:0.5px;color:#000;font-weight:400;line-height:23.57px;height:23.57px">kN/lbf</div>
<div class="cell dk" style="left:90px;top:1136px;width:81px;height:35.5px;"></div>
<div class="cell dk" style="left:173px;top:1136px;width:97px;height:35.5px;"></div>
<div class="cell dk" style="left:272px;top:1136px;width:98px;height:35.5px;"></div>
<div class="cell dk" style="left:372px;top:1136px;width:102.5px;height:35.5px;"></div>
<div class="cell dk" style="left:477px;top:1136px;width:97px;height:35.5px;"></div>
<div class="cell dk" style="left:576px;top:1136px;width:96.5px;height:35.5px;"></div>
<div class="cell dk" style="left:675px;top:1136px;width:97px;height:35.5px;"></div>
<div class="cell dk" style="left:774px;top:1136px;width:122.5px;height:35.5px;"></div>
<div class="cell dk" style="left:899px;top:1136px;width:110px;height:35.5px;"></div>
<div class="cell dk" style="left:1011.5px;top:1136px;width:138.5px;height:35.5px;"></div>
<div class="cell" style="left:96px;top:1140px;width:68px;height:26.5px;background:#8fd3f3;filter:blur(1.5px);"></div>
<div class="t" style="left:11.5px;width:240px;top:1145.03px;font-family:'Liberation Sans', 'Noto Sans CJK SC', sans-serif;font-size:18.2px;letter-spacing:-0.55px;color:#000;font-weight:400;line-height:20.93px;height:20.93px">40 OR</div>
<div class="t" style="left:97.0px;width:240px;top:1141.25px;font-family:'Liberation Sans', 'Noto Sans CJK SC', sans-serif;font-size:20.5px;letter-spacing:0.5px;color:#000;font-weight:400;line-height:23.57px;height:23.57px">12.700</div>
<div class="t" style="left:196.5px;width:240px;top:1141.25px;font-family:'Liberation Sans', 'Noto Sans CJK SC', sans-serif;font-size:20.5px;letter-spacing:0.5px;color:#000;font-weight:400;line-height:23.57px;height:23.57px">7.94</div>
<div class="t" style="left:298.8px;width:240px;top:1141.25px;font-family:'Liberation Sans', 'Noto Sans CJK SC', sans-serif;font-size:20.5px;letter-spacing:0.5px;color:#000;font-weight:400;line-height:23.57px;height:23.57px">7.85</div>
<div class="t" style="left:401.0px;width:240px;top:1141.25px;font-family:'Liberation Sans', 'Noto Sans CJK SC', sans-serif;font-size:20.5px;letter-spacing:0.5px;color:#000;font-weight:400;line-height:23.57px;height:23.57px">3.96</div>
<div class="t" style="left:499.8px;width:240px;top:1141.25px;font-family:'Liberation Sans', 'Noto Sans CJK SC', sans-serif;font-size:20.5px;letter-spacing:0.5px;color:#000;font-weight:400;line-height:23.57px;height:23.57px">18.70</div>
<div class="t" style="left:599.0px;width:240px;top:1141.25px;font-family:'Liberation Sans', 'Noto Sans CJK SC', sans-serif;font-size:20.5px;letter-spacing:0.5px;color:#000;font-weight:400;line-height:23.57px;height:23.57px">20.10</div>
<div class="t" style="left:710.8px;width:240px;top:1141.25px;font-family:'Liberation Sans', 'Noto Sans CJK SC', sans-serif;font-size:20.5px;letter-spacing:0.5px;color:#000;font-weight:400;line-height:23.57px;height:23.57px">12.00</div>
<div class="t" style="left:829.5px;width:240px;top:1141.25px;font-family:'Liberation Sans', 'Noto Sans CJK SC', sans-serif;font-size:20.5px;letter-spacing:0.5px;color:#000;font-weight:400;line-height:23.57px;height:23.57px">1.50</div>
<div class="t" style="left:956.2px;width:240px;top:1141.25px;font-family:'Liberation Sans', 'Noto Sans CJK SC', sans-serif;font-size:20.5px;letter-spacing:0.5px;color:#000;font-weight:400;line-height:23.57px;height:23.57px">16.0</div>
<div class="cell lt" style="left:90px;top:1173px;width:81px;height:35.5px;"></div>
<div class="cell lt" style="left:173px;top:1173px;width:97px;height:35.5px;"></div>
<div class="cell lt" style="left:272px;top:1173px;width:98px;height:35.5px;"></div>
<div class="cell lt" style="left:372px;top:1173px;width:102.5px;height:35.5px;"></div>
<div class="cell lt" style="left:477px;top:1173px;width:97px;height:35.5px;"></div>
<div class="cell lt" style="left:576px;top:1173px;width:96.5px;height:35.5px;"></div>
<div class="cell lt" style="left:675px;top:1173px;width:97px;height:35.5px;"></div>
<div class="cell lt" style="left:774px;top:1173px;width:122.5px;height:35.5px;"></div>
<div class="cell lt" style="left:899px;top:1173px;width:110px;height:35.5px;"></div>
<div class="cell lt" style="left:1011.5px;top:1173px;width:138.5px;height:35.5px;"></div>
<div class="t" style="left:11.5px;width:240px;top:1182.53px;font-family:'Liberation Sans', 'Noto Sans CJK SC', sans-serif;font-size:18.2px;letter-spacing:-0.55px;color:#000;font-weight:400;line-height:20.93px;height:20.93px">50 OR</div>
<div class="t" style="left:97.0px;width:240px;top:1176.45px;font-family:'Liberation Sans', 'Noto Sans CJK SC', sans-serif;font-size:20.5px;letter-spacing:0.5px;color:#000;font-weight:400;line-height:23.57px;height:23.57px">15.875</div>
<div class="t" style="left:196.5px;width:240px;top:1176.45px;font-family:'Liberation Sans', 'Noto Sans CJK SC', sans-serif;font-size:20.5px;letter-spacing:0.5px;color:#000;font-weight:400;line-height:23.57px;height:23.57px">10.16</div>
<div class="t" style="left:298.8px;width:240px;top:1176.45px;font-family:'Liberation Sans', 'Noto Sans CJK SC', sans-serif;font-size:20.5px;letter-spacing:0.5px;color:#000;font-weight:400;line-height:23.57px;height:23.57px">9.40</div>
<div class="t" style="left:401.0px;width:240px;top:1176.45px;font-family:'Liberation Sans', 'Noto Sans CJK SC', sans-serif;font-size:20.5px;letter-spacing:0.5px;color:#000;font-weight:400;line-height:23.57px;height:23.57px">5.08</div>
<div class="t" style="left:499.8px;width:240px;top:1176.45px;font-family:'Liberation Sans', 'Noto Sans CJK SC', sans-serif;font-size:20.5px;letter-spacing:0.5px;color:#000;font-weight:400;line-height:23.57px;height:23.57px">21.70</div>
<div class="t" style="left:599.0px;width:240px;top:1176.45px;font-family:'Liberation Sans', 'Noto Sans CJK SC', sans-serif;font-size:20.5px;letter-spacing:0.5px;color:#000;font-weight:400;line-height:23.57px;height:23.57px">22.40</div>
<div class="t" style="left:710.8px;width:240px;top:1176.45px;font-family:'Liberation Sans', 'Noto Sans CJK SC', sans-serif;font-size:20.5px;letter-spacing:0.5px;color:#000;font-weight:400;line-height:23.57px;height:23.57px">15.00</div>
<div class="t" style="left:829.5px;width:240px;top:1176.45px;font-family:'Liberation Sans', 'Noto Sans CJK SC', sans-serif;font-size:20.5px;letter-spacing:0.5px;color:#000;font-weight:400;line-height:23.57px;height:23.57px">2.00</div>
<div class="t" style="left:956.2px;width:240px;top:1176.45px;font-family:'Liberation Sans', 'Noto Sans CJK SC', sans-serif;font-size:20.5px;letter-spacing:0.5px;color:#000;font-weight:400;line-height:23.57px;height:23.57px">29.4</div>
<div class="cell dk" style="left:90px;top:1211px;width:81px;height:35px;"></div>
<div class="cell dk" style="left:173px;top:1211px;width:97px;height:35px;"></div>
<div class="cell dk" style="left:272px;top:1211px;width:98px;height:35px;"></div>
<div class="cell dk" style="left:372px;top:1211px;width:102.5px;height:35px;"></div>
<div class="cell dk" style="left:477px;top:1211px;width:97px;height:35px;"></div>
<div class="cell dk" style="left:576px;top:1211px;width:96.5px;height:35px;"></div>
<div class="cell dk" style="left:675px;top:1211px;width:97px;height:35px;"></div>
<div class="cell dk" style="left:774px;top:1211px;width:122.5px;height:35px;"></div>
<div class="cell dk" style="left:899px;top:1211px;width:110px;height:35px;"></div>
<div class="cell dk" style="left:1011.5px;top:1211px;width:138.5px;height:35px;"></div>
<div class="cell" style="left:96px;top:1215px;width:68px;height:26px;background:#8fd3f3;filter:blur(1.5px);"></div>
<div class="t" style="left:11.5px;width:240px;top:1219.83px;font-family:'Liberation Sans', 'Noto Sans CJK SC', sans-serif;font-size:18.2px;letter-spacing:-0.55px;color:#000;font-weight:400;line-height:20.93px;height:20.93px">60 OR</div>
<div class="t" style="left:97.0px;width:240px;top:1214.75px;font-family:'Liberation Sans', 'Noto Sans CJK SC', sans-serif;font-size:20.5px;letter-spacing:0.5px;color:#000;font-weight:400;line-height:23.57px;height:23.57px">19.050</div>
<div class="t" style="left:196.5px;width:240px;top:1214.75px;font-family:'Liberation Sans', 'Noto Sans CJK SC', sans-serif;font-size:20.5px;letter-spacing:0.5px;color:#000;font-weight:400;line-height:23.57px;height:23.57px">11.91</div>
<div class="t" style="left:298.8px;width:240px;top:1214.75px;font-family:'Liberation Sans', 'Noto Sans CJK SC', sans-serif;font-size:20.5px;letter-spacing:0.5px;color:#000;font-weight:400;line-height:23.57px;height:23.57px">12.57</div>
<div class="t" style="left:401.0px;width:240px;top:1214.75px;font-family:'Liberation Sans', 'Noto Sans CJK SC', sans-serif;font-size:20.5px;letter-spacing:0.5px;color:#000;font-weight:400;line-height:23.57px;height:23.57px">5.94</div>
<div class="t" style="left:499.8px;width:240px;top:1214.75px;font-family:'Liberation Sans', 'Noto Sans CJK SC', sans-serif;font-size:20.5px;letter-spacing:0.5px;color:#000;font-weight:400;line-height:23.57px;height:23.57px">26.40</div>
<div class="t" style="left:599.0px;width:240px;top:1214.75px;font-family:'Liberation Sans', 'Noto Sans CJK SC', sans-serif;font-size:20.5px;letter-spacing:0.5px;color:#000;font-weight:400;line-height:23.57px;height:23.57px">27.60</div>
<div class="t" style="left:710.8px;width:240px;top:1214.75px;font-family:'Liberation Sans', 'Noto Sans CJK SC', sans-serif;font-size:20.5px;letter-spacing:0.5px;color:#000;font-weight:400;line-height:23.57px;height:23.57px">18.00</div>
<div class="t" style="left:829.5px;width:240px;top:1214.75px;font-family:'Liberation Sans', 'Noto Sans CJK SC', sans-serif;font-size:20.5px;letter-spacing:0.5px;color:#000;font-weight:400;line-height:23.57px;height:23.57px">2.40</div>
<div class="t" style="left:956.2px;width:240px;top:1214.75px;font-family:'Liberation Sans', 'Noto Sans CJK SC', sans-serif;font-size:20.5px;letter-spacing:0.5px;color:#000;font-weight:400;line-height:23.57px;height:23.57px">41.5</div>
<div class="cell lt" style="left:90px;top:1248px;width:81px;height:35.5px;"></div>
<div class="cell lt" style="left:173px;top:1248px;width:97px;height:35.5px;"></div>
<div class="cell lt" style="left:272px;top:1248px;width:98px;height:35.5px;"></div>
<div class="cell lt" style="left:372px;top:1248px;width:102.5px;height:35.5px;"></div>
<div class="cell lt" style="left:477px;top:1248px;width:97px;height:35.5px;"></div>
<div class="cell lt" style="left:576px;top:1248px;width:96.5px;height:35.5px;"></div>
<div class="cell lt" style="left:675px;top:1248px;width:97px;height:35.5px;"></div>
<div class="cell lt" style="left:774px;top:1248px;width:122.5px;height:35.5px;"></div>
<div class="cell lt" style="left:899px;top:1248px;width:110px;height:35.5px;"></div>
<div class="cell lt" style="left:1011.5px;top:1248px;width:138.5px;height:35.5px;"></div>
<div class="t" style="left:11.5px;width:240px;top:1256.93px;font-family:'Liberation Sans', 'Noto Sans CJK SC', sans-serif;font-size:18.2px;letter-spacing:-0.55px;color:#000;font-weight:400;line-height:20.93px;height:20.93px">80 OR</div>
<div class="t" style="left:97.0px;width:240px;top:1250.75px;font-family:'Liberation Sans', 'Noto Sans CJK SC', sans-serif;font-size:20.5px;letter-spacing:0.5px;color:#000;font-weight:400;line-height:23.57px;height:23.57px">25.400</div>
<div class="t" style="left:196.5px;width:240px;top:1250.75px;font-family:'Liberation Sans', 'Noto Sans CJK SC', sans-serif;font-size:20.5px;letter-spacing:0.5px;color:#000;font-weight:400;line-height:23.57px;height:23.57px">12.57</div>
<div class="t" style="left:298.8px;width:240px;top:1250.75px;font-family:'Liberation Sans', 'Noto Sans CJK SC', sans-serif;font-size:20.5px;letter-spacing:0.5px;color:#000;font-weight:400;line-height:23.57px;height:23.57px">15.75</div>
<div class="t" style="left:401.0px;width:240px;top:1250.75px;font-family:'Liberation Sans', 'Noto Sans CJK SC', sans-serif;font-size:20.5px;letter-spacing:0.5px;color:#000;font-weight:400;line-height:23.57px;height:23.57px">7.94</div>
<div class="t" style="left:499.8px;width:240px;top:1250.75px;font-family:'Liberation Sans', 'Noto Sans CJK SC', sans-serif;font-size:20.5px;letter-spacing:0.5px;color:#000;font-weight:400;line-height:23.57px;height:23.57px">36.00</div>
<div class="t" style="left:599.0px;width:240px;top:1250.75px;font-family:'Liberation Sans', 'Noto Sans CJK SC', sans-serif;font-size:20.5px;letter-spacing:0.5px;color:#000;font-weight:400;line-height:23.57px;height:23.57px">38.00</div>
<div class="t" style="left:710.8px;width:240px;top:1250.75px;font-family:'Liberation Sans', 'Noto Sans CJK SC', sans-serif;font-size:20.5px;letter-spacing:0.5px;color:#000;font-weight:400;line-height:23.57px;height:23.57px">24.00</div>
<div class="t" style="left:829.5px;width:240px;top:1250.75px;font-family:'Liberation Sans', 'Noto Sans CJK SC', sans-serif;font-size:20.5px;letter-spacing:0.5px;color:#000;font-weight:400;line-height:23.57px;height:23.57px">3.20</div>
<div class="t" style="left:956.2px;width:240px;top:1250.75px;font-family:'Liberation Sans', 'Noto Sans CJK SC', sans-serif;font-size:20.5px;letter-spacing:0.5px;color:#000;font-weight:400;line-height:23.57px;height:23.57px">60.0</div>
<div class="cell dk" style="left:90px;top:1286px;width:81px;height:35px;"></div>
<div class="cell dk" style="left:173px;top:1286px;width:97px;height:35px;"></div>
<div class="cell dk" style="left:272px;top:1286px;width:98px;height:35px;"></div>
<div class="cell dk" style="left:372px;top:1286px;width:102.5px;height:35px;"></div>
<div class="cell dk" style="left:477px;top:1286px;width:97px;height:35px;"></div>
<div class="cell dk" style="left:576px;top:1286px;width:96.5px;height:35px;"></div>
<div class="cell dk" style="left:675px;top:1286px;width:97px;height:35px;"></div>
<div class="cell dk" style="left:774px;top:1286px;width:122.5px;height:35px;"></div>
<div class="cell dk" style="left:899px;top:1286px;width:110px;height:35px;"></div>
<div class="cell dk" style="left:1011.5px;top:1286px;width:138.5px;height:35px;"></div>
<div class="cell" style="left:96px;top:1290px;width:68px;height:26px;background:#8fd3f3;filter:blur(1.5px);"></div>
<div class="t" style="left:11.5px;width:240px;top:1295.63px;font-family:'Liberation Sans', 'Noto Sans CJK SC', sans-serif;font-size:18.2px;letter-spacing:-0.55px;color:#000;font-weight:400;line-height:20.93px;height:20.93px">80H OR</div>
<div class="t" style="left:97.0px;width:240px;top:1291.85px;font-family:'Liberation Sans', 'Noto Sans CJK SC', sans-serif;font-size:20.5px;letter-spacing:0.5px;color:#000;font-weight:400;line-height:23.57px;height:23.57px">25.400</div>
<div class="t" style="left:196.5px;width:240px;top:1291.85px;font-family:'Liberation Sans', 'Noto Sans CJK SC', sans-serif;font-size:20.5px;letter-spacing:0.5px;color:#000;font-weight:400;line-height:23.57px;height:23.57px">12.57</div>
<div class="t" style="left:298.8px;width:240px;top:1291.85px;font-family:'Liberation Sans', 'Noto Sans CJK SC', sans-serif;font-size:20.5px;letter-spacing:0.5px;color:#000;font-weight:400;line-height:23.57px;height:23.57px">15.75</div>
<div class="t" style="left:401.0px;width:240px;top:1291.85px;font-family:'Liberation Sans', 'Noto Sans CJK SC', sans-serif;font-size:20.5px;letter-spacing:0.5px;color:#000;font-weight:400;line-height:23.57px;height:23.57px">7.94</div>
<div class="t" style="left:499.8px;width:240px;top:1291.85px;font-family:'Liberation Sans', 'Noto Sans CJK SC', sans-serif;font-size:20.5px;letter-spacing:0.5px;color:#000;font-weight:400;line-height:23.57px;height:23.57px">39.70</div>
<div class="t" style="left:599.0px;width:240px;top:1291.85px;font-family:'Liberation Sans', 'Noto Sans CJK SC', sans-serif;font-size:20.5px;letter-spacing:0.5px;color:#000;font-weight:400;line-height:23.57px;height:23.57px">41.70</div>
<div class="t" style="left:710.8px;width:240px;top:1291.85px;font-family:'Liberation Sans', 'Noto Sans CJK SC', sans-serif;font-size:20.5px;letter-spacing:0.5px;color:#000;font-weight:400;line-height:23.57px;height:23.57px">24.00</div>
<div class="t" style="left:829.5px;width:240px;top:1291.85px;font-family:'Liberation Sans', 'Noto Sans CJK SC', sans-serif;font-size:20.5px;letter-spacing:0.5px;color:#000;font-weight:400;line-height:23.57px;height:23.57px">4.00</div>
<div class="t" style="left:956.2px;width:240px;top:1291.85px;font-family:'Liberation Sans', 'Noto Sans CJK SC', sans-serif;font-size:20.5px;letter-spacing:0.5px;color:#000;font-weight:400;line-height:23.57px;height:23.57px">65.0</div>
<div class="cell lt" style="left:90px;top:1323px;width:81px;height:35.5px;"></div>
<div class="cell lt" style="left:173px;top:1323px;width:97px;height:35.5px;"></div>
<div class="cell lt" style="left:272px;top:1323px;width:98px;height:35.5px;"></div>
<div class="cell lt" style="left:372px;top:1323px;width:102.5px;height:35.5px;"></div>
<div class="cell lt" style="left:477px;top:1323px;width:97px;height:35.5px;"></div>
<div class="cell lt" style="left:576px;top:1323px;width:96.5px;height:35.5px;"></div>
<div class="cell lt" style="left:675px;top:1323px;width:97px;height:35.5px;"></div>
<div class="cell lt" style="left:774px;top:1323px;width:122.5px;height:35.5px;"></div>
<div class="cell lt" style="left:899px;top:1323px;width:110px;height:35.5px;"></div>
<div class="cell lt" style="left:1011.5px;top:1323px;width:138.5px;height:35.5px;"></div>
<div class="t" style="left:11.5px;width:240px;top:1332.03px;font-family:'Liberation Sans', 'Noto Sans CJK SC', sans-serif;font-size:18.2px;letter-spacing:-0.55px;color:#000;font-weight:400;line-height:20.93px;height:20.93px">06B OR</div>
<div class="t" style="left:97.0px;width:240px;top:1327.05px;font-family:'Liberation Sans', 'Noto Sans CJK SC', sans-serif;font-size:20.5px;letter-spacing:0.5px;color:#000;font-weight:400;line-height:23.57px;height:23.57px">9.525</div>
<div class="t" style="left:196.5px;width:240px;top:1327.05px;font-family:'Liberation Sans', 'Noto Sans CJK SC', sans-serif;font-size:20.5px;letter-spacing:0.5px;color:#000;font-weight:400;line-height:23.57px;height:23.57px">6.35</div>
<div class="t" style="left:298.8px;width:240px;top:1327.05px;font-family:'Liberation Sans', 'Noto Sans CJK SC', sans-serif;font-size:20.5px;letter-spacing:0.5px;color:#000;font-weight:400;line-height:23.57px;height:23.57px">5.72</div>
<div class="t" style="left:401.0px;width:240px;top:1327.05px;font-family:'Liberation Sans', 'Noto Sans CJK SC', sans-serif;font-size:20.5px;letter-spacing:0.5px;color:#000;font-weight:400;line-height:23.57px;height:23.57px">3.28</div>
<div class="t" style="left:499.8px;width:240px;top:1327.05px;font-family:'Liberation Sans', 'Noto Sans CJK SC', sans-serif;font-size:20.5px;letter-spacing:0.5px;color:#000;font-weight:400;line-height:23.57px;height:23.57px">13.00</div>
<div class="t" style="left:599.0px;width:240px;top:1327.05px;font-family:'Liberation Sans', 'Noto Sans CJK SC', sans-serif;font-size:20.5px;letter-spacing:0.5px;color:#000;font-weight:400;line-height:23.57px;height:23.57px">14.00</div>
<div class="t" style="left:710.8px;width:240px;top:1327.05px;font-family:'Liberation Sans', 'Noto Sans CJK SC', sans-serif;font-size:20.5px;letter-spacing:0.5px;color:#000;font-weight:400;line-height:23.57px;height:23.57px">8.20</div>
<div class="t" style="left:829.5px;width:240px;top:1327.05px;font-family:'Liberation Sans', 'Noto Sans CJK SC', sans-serif;font-size:20.5px;letter-spacing:0.5px;color:#000;font-weight:400;line-height:23.57px;height:23.57px">1.30</div>
<div class="t" style="left:956.2px;width:240px;top:1327.05px;font-family:'Liberation Sans', 'Noto Sans CJK SC', sans-serif;font-size:20.5px;letter-spacing:0.5px;color:#000;font-weight:400;line-height:23.57px;height:23.57px">9.0</div>
<div class="cell dk" style="left:90px;top:1361px;width:81px;height:35px;"></div>
<div class="cell dk" style="left:173px;top:1361px;width:97px;height:35px;"></div>
<div class="cell dk" style="left:272px;top:1361px;width:98px;height:35px;"></div>
<div class="cell dk" style="left:372px;top:1361px;width:102.5px;height:35px;"></div>
<div class="cell dk" style="left:477px;top:1361px;width:97px;height:35px;"></div>
<div class="cell dk" style="left:576px;top:1361px;width:96.5px;height:35px;"></div>
<div class="cell dk" style="left:675px;top:1361px;width:97px;height:35px;"></div>
<div class="cell dk" style="left:774px;top:1361px;width:122.5px;height:35px;"></div>
<div class="cell dk" style="left:899px;top:1361px;width:110px;height:35px;"></div>
<div class="cell dk" style="left:1011.5px;top:1361px;width:138.5px;height:35px;"></div>
<div class="cell" style="left:96px;top:1365px;width:68px;height:26px;background:#8fd3f3;filter:blur(1.5px);"></div>
<div class="t" style="left:11.5px;width:240px;top:1370.73px;font-family:'Liberation Sans', 'Noto Sans CJK SC', sans-serif;font-size:18.2px;letter-spacing:-0.55px;color:#000;font-weight:400;line-height:20.93px;height:20.93px">08B OR</div>
<div class="t" style="left:97.0px;width:240px;top:1365.35px;font-family:'Liberation Sans', 'Noto Sans CJK SC', sans-serif;font-size:20.5px;letter-spacing:0.5px;color:#000;font-weight:400;line-height:23.57px;height:23.57px">12.700</div>
<div class="t" style="left:196.5px;width:240px;top:1365.35px;font-family:'Liberation Sans', 'Noto Sans CJK SC', sans-serif;font-size:20.5px;letter-spacing:0.5px;color:#000;font-weight:400;line-height:23.57px;height:23.57px">8.51</div>
<div class="t" style="left:298.8px;width:240px;top:1365.35px;font-family:'Liberation Sans', 'Noto Sans CJK SC', sans-serif;font-size:20.5px;letter-spacing:0.5px;color:#000;font-weight:400;line-height:23.57px;height:23.57px">7.75</div>
<div class="t" style="left:401.0px;width:240px;top:1365.35px;font-family:'Liberation Sans', 'Noto Sans CJK SC', sans-serif;font-size:20.5px;letter-spacing:0.5px;color:#000;font-weight:400;line-height:23.57px;height:23.57px">4.45</div>
<div class="t" style="left:499.8px;width:240px;top:1365.35px;font-family:'Liberation Sans', 'Noto Sans CJK SC', sans-serif;font-size:20.5px;letter-spacing:0.5px;color:#000;font-weight:400;line-height:23.57px;height:23.57px">19.20</div>
<div class="t" style="left:599.0px;width:240px;top:1365.35px;font-family:'Liberation Sans', 'Noto Sans CJK SC', sans-serif;font-size:20.5px;letter-spacing:0.5px;color:#000;font-weight:400;line-height:23.57px;height:23.57px">20.40</div>
<div class="t" style="left:710.8px;width:240px;top:1365.35px;font-family:'Liberation Sans', 'Noto Sans CJK SC', sans-serif;font-size:20.5px;letter-spacing:0.5px;color:#000;font-weight:400;line-height:23.57px;height:23.57px">11.80</div>
<div class="t" style="left:829.5px;width:240px;top:1365.35px;font-family:'Liberation Sans', 'Noto Sans CJK SC', sans-serif;font-size:20.5px;letter-spacing:0.5px;color:#000;font-weight:400;line-height:23.57px;height:23.57px">1.60</div>
<div class="t" style="left:956.2px;width:240px;top:1365.35px;font-family:'Liberation Sans', 'Noto Sans CJK SC', sans-serif;font-size:20.5px;letter-spacing:0.5px;color:#000;font-weight:400;line-height:23.57px;height:23.57px">18.0</div>
<div class="cell lt" style="left:90px;top:1398px;width:81px;height:35px;"></div>
<div class="cell lt" style="left:173px;top:1398px;width:97px;height:35px;"></div>
<div class="cell lt" style="left:272px;top:1398px;width:98px;height:35px;"></div>
<div class="cell lt" style="left:372px;top:1398px;width:102.5px;height:35px;"></div>
<div class="cell lt" style="left:477px;top:1398px;width:97px;height:35px;"></div>
<div class="cell lt" style="left:576px;top:1398px;width:96.5px;height:35px;"></div>
<div class="cell lt" style="left:675px;top:1398px;width:97px;height:35px;"></div>
<div class="cell lt" style="left:774px;top:1398px;width:122.5px;height:35px;"></div>
<div class="cell lt" style="left:899px;top:1398px;width:110px;height:35px;"></div>
<div class="cell lt" style="left:1011.5px;top:1398px;width:138.5px;height:35px;"></div>
<div class="t" style="left:11.5px;width:240px;top:1406.83px;font-family:'Liberation Sans', 'Noto Sans CJK SC', sans-serif;font-size:18.2px;letter-spacing:-0.55px;color:#000;font-weight:400;line-height:20.93px;height:20.93px">10B OR</div>
<div class="t" style="left:97.0px;width:240px;top:1403.75px;font-family:'Liberation Sans', 'Noto Sans CJK SC', sans-serif;font-size:20.5px;letter-spacing:0.5px;color:#000;font-weight:400;line-height:23.57px;height:23.57px">15.875</div>
<div class="t" style="left:196.5px;width:240px;top:1403.75px;font-family:'Liberation Sans', 'Noto Sans CJK SC', sans-serif;font-size:20.5px;letter-spacing:0.5px;color:#000;font-weight:400;line-height:23.57px;height:23.57px">10.16</div>
<div class="t" style="left:298.8px;width:240px;top:1403.75px;font-family:'Liberation Sans', 'Noto Sans CJK SC', sans-serif;font-size:20.5px;letter-spacing:0.5px;color:#000;font-weight:400;line-height:23.57px;height:23.57px">9.65</div>
<div class="t" style="left:401.0px;width:240px;top:1403.75px;font-family:'Liberation Sans', 'Noto Sans CJK SC', sans-serif;font-size:20.5px;letter-spacing:0.5px;color:#000;font-weight:400;line-height:23.57px;height:23.57px">5.08</div>
<div class="t" style="left:499.8px;width:240px;top:1403.75px;font-family:'Liberation Sans', 'Noto Sans CJK SC', sans-serif;font-size:20.5px;letter-spacing:0.5px;color:#000;font-weight:400;line-height:23.57px;height:23.57px">18.80</div>
<div class="t" style="left:599.0px;width:240px;top:1403.75px;font-family:'Liberation Sans', 'Noto Sans CJK SC', sans-serif;font-size:20.5px;letter-spacing:0.5px;color:#000;font-weight:400;line-height:23.57px;height:23.57px">20.10</div>
<div class="t" style="left:710.8px;width:240px;top:1403.75px;font-family:'Liberation Sans', 'Noto Sans CJK SC', sans-serif;font-size:20.5px;letter-spacing:0.5px;color:#000;font-weight:400;line-height:23.57px;height:23.57px">14.70</div>
<div class="t" style="left:829.5px;width:240px;top:1403.75px;font-family:'Liberation Sans', 'Noto Sans CJK SC', sans-serif;font-size:20.5px;letter-spacing:0.5px;color:#000;font-weight:400;line-height:23.57px;height:23.57px">1.70</div>
<div class="t" style="left:956.2px;width:240px;top:1403.75px;font-family:'Liberation Sans', 'Noto Sans CJK SC', sans-serif;font-size:20.5px;letter-spacing:0.5px;color:#000;font-weight:400;line-height:23.57px;height:23.57px">22.4</div>
<div class="cell dk" style="left:90px;top:1436px;width:81px;height:34.5px;"></div>
<div class="cell dk" style="left:173px;top:1436px;width:97px;height:34.5px;"></div>
<div class="cell dk" style="left:272px;top:1436px;width:98px;height:34.5px;"></div>
<div class="cell dk" style="left:372px;top:1436px;width:102.5px;height:34.5px;"></div>
<div class="cell dk" style="left:477px;top:1436px;width:97px;height:34.5px;"></div>
<div class="cell dk" style="left:576px;top:1436px;width:96.5px;height:34.5px;"></div>
<div class="cell dk" style="left:675px;top:1436px;width:97px;height:34.5px;"></div>
<div class="cell dk" style="left:774px;top:1436px;width:122.5px;height:34.5px;"></div>
<div class="cell dk" style="left:899px;top:1436px;width:110px;height:34.5px;"></div>
<div class="cell dk" style="left:1011.5px;top:1436px;width:138.5px;height:34.5px;"></div>
<div class="cell" style="left:96px;top:1440px;width:68px;height:25.5px;background:#8fd3f3;filter:blur(1.5px);"></div>
<div class="t" style="left:11.5px;width:240px;top:1446.03px;font-family:'Liberation Sans', 'Noto Sans CJK SC', sans-serif;font-size:18.2px;letter-spacing:-0.55px;color:#000;font-weight:400;line-height:20.93px;height:20.93px">12B OR</div>
<div class="t" style="left:97.0px;width:240px;top:1440.65px;font-family:'Liberation Sans', 'Noto Sans CJK SC', sans-serif;font-size:20.5px;letter-spacing:0.5px;color:#000;font-weight:400;line-height:23.57px;height:23.57px">19.050</div>
<div class="t" style="left:196.5px;width:240px;top:1440.65px;font-family:'Liberation Sans', 'Noto Sans CJK SC', sans-serif;font-size:20.5px;letter-spacing:0.5px;color:#000;font-weight:400;line-height:23.57px;height:23.57px">12.07</div>
<div class="t" style="left:298.8px;width:240px;top:1440.65px;font-family:'Liberation Sans', 'Noto Sans CJK SC', sans-serif;font-size:20.5px;letter-spacing:0.5px;color:#000;font-weight:400;line-height:23.57px;height:23.57px">11.68</div>
<div class="t" style="left:401.0px;width:240px;top:1440.65px;font-family:'Liberation Sans', 'Noto Sans CJK SC', sans-serif;font-size:20.5px;letter-spacing:0.5px;color:#000;font-weight:400;line-height:23.57px;height:23.57px">5.72</div>
<div class="t" style="left:499.8px;width:240px;top:1440.65px;font-family:'Liberation Sans', 'Noto Sans CJK SC', sans-serif;font-size:20.5px;letter-spacing:0.5px;color:#000;font-weight:400;line-height:23.57px;height:23.57px">22.50</div>
<div class="t" style="left:599.0px;width:240px;top:1440.65px;font-family:'Liberation Sans', 'Noto Sans CJK SC', sans-serif;font-size:20.5px;letter-spacing:0.5px;color:#000;font-weight:400;line-height:23.57px;height:23.57px">23.90</div>
<div class="t" style="left:710.8px;width:240px;top:1440.65px;font-family:'Liberation Sans', 'Noto Sans CJK SC', sans-serif;font-size:20.5px;letter-spacing:0.5px;color:#000;font-weight:400;line-height:23.57px;height:23.57px">16.10</div>
<div class="t" style="left:830.5px;width:240px;top:1442.68px;font-family:'Liberation Sans', 'Noto Sans CJK SC', sans-serif;font-size:23px;letter-spacing:0px;color:#000;font-weight:400;line-height:26.45px;height:26.45px"><span style="display:inline-block;transform:scaleX(0.8);letter-spacing:0.6px">1.85</span></div>
<div class="t" style="left:956.2px;width:240px;top:1440.65px;font-family:'Liberation Sans', 'Noto Sans CJK SC', sans-serif;font-size:20.5px;letter-spacing:0.5px;color:#000;font-weight:400;line-height:23.57px;height:23.57px">28.9</div>
<div class="cell lt" style="left:90px;top:1473px;width:81px;height:35px;"></div>
<div class="cell lt" style="left:173px;top:1473px;width:97px;height:35px;"></div>
<div class="cell lt" style="left:272px;top:1473px;width:98px;height:35px;"></div>
<div class="cell lt" style="left:372px;top:1473px;width:102.5px;height:35px;"></div>
<div class="cell lt" style="left:477px;top:1473px;width:97px;height:35px;"></div>
<div class="cell lt" style="left:576px;top:1473px;width:96.5px;height:35px;"></div>
<div class="cell lt" style="left:675px;top:1473px;width:97px;height:35px;"></div>
<div class="cell lt" style="left:774px;top:1473px;width:122.5px;height:35px;"></div>
<div class="cell lt" style="left:899px;top:1473px;width:110px;height:35px;"></div>
<div class="cell lt" style="left:1011.5px;top:1473px;width:138.5px;height:35px;"></div>
<div class="t" style="left:11.5px;width:240px;top:1481.83px;font-family:'Liberation Sans', 'Noto Sans CJK SC', sans-serif;font-size:18.2px;letter-spacing:-0.55px;color:#000;font-weight:400;line-height:20.93px;height:20.93px">16B OR</div>
<div class="t" style="left:97.0px;width:240px;top:1476.75px;font-family:'Liberation Sans', 'Noto Sans CJK SC', sans-serif;font-size:20.5px;letter-spacing:0.5px;color:#000;font-weight:400;line-height:23.57px;height:23.57px">25.400</div>
<div class="t" style="left:196.5px;width:240px;top:1476.75px;font-family:'Liberation Sans', 'Noto Sans CJK SC', sans-serif;font-size:20.5px;letter-spacing:0.5px;color:#000;font-weight:400;line-height:23.57px;height:23.57px">15.88</div>
<div class="t" style="left:298.8px;width:240px;top:1476.75px;font-family:'Liberation Sans', 'Noto Sans CJK SC', sans-serif;font-size:20.5px;letter-spacing:0.5px;color:#000;font-weight:400;line-height:23.57px;height:23.57px">17.02</div>
<div class="t" style="left:401.0px;width:240px;top:1476.75px;font-family:'Liberation Sans', 'Noto Sans CJK SC', sans-serif;font-size:20.5px;letter-spacing:0.5px;color:#000;font-weight:400;line-height:23.57px;height:23.57px">8.28</div>
<div class="t" style="left:499.8px;width:240px;top:1476.75px;font-family:'Liberation Sans', 'Noto Sans CJK SC', sans-serif;font-size:20.5px;letter-spacing:0.5px;color:#000;font-weight:400;line-height:23.57px;height:23.57px">38.00</div>
<div class="t" style="left:599.0px;width:240px;top:1476.75px;font-family:'Liberation Sans', 'Noto Sans CJK SC', sans-serif;font-size:20.5px;letter-spacing:0.5px;color:#000;font-weight:400;line-height:23.57px;height:23.57px">41.30</div>
<div class="t" style="left:710.8px;width:240px;top:1476.75px;font-family:'Liberation Sans', 'Noto Sans CJK SC', sans-serif;font-size:20.5px;letter-spacing:0.5px;color:#000;font-weight:400;line-height:23.57px;height:23.57px">21.00</div>
<div class="t" style="left:830.5px;width:240px;top:1478.78px;font-family:'Liberation Sans', 'Noto Sans CJK SC', sans-serif;font-size:23px;letter-spacing:0px;color:#000;font-weight:400;line-height:26.45px;height:26.45px"><span style="display:inline-block;transform:scaleX(0.8);letter-spacing:0.6px">4.15/3.10</span></div>
<div class="t" style="left:956.2px;width:240px;top:1476.75px;font-family:'Liberation Sans', 'Noto Sans CJK SC', sans-serif;font-size:20.5px;letter-spacing:0.5px;color:#000;font-weight:400;line-height:23.57px;height:23.57px">60.0</div>
<div class="cell dk" style="left:90px;top:1510px;width:81px;height:35.5px;"></div>
<div class="cell dk" style="left:173px;top:1510px;width:97px;height:35.5px;"></div>
<div class="cell dk" style="left:272px;top:1510px;width:98px;height:35.5px;"></div>
<div class="cell dk" style="left:372px;top:1510px;width:102.5px;height:35.5px;"></div>
<div class="cell dk" style="left:477px;top:1510px;width:97px;height:35.5px;"></div>
<div class="cell dk" style="left:576px;top:1510px;width:96.5px;height:35.5px;"></div>
<div class="cell dk" style="left:675px;top:1510px;width:97px;height:35.5px;"></div>
<div class="cell dk" style="left:774px;top:1510px;width:122.5px;height:35.5px;"></div>
<div class="cell dk" style="left:899px;top:1510px;width:110px;height:35.5px;"></div>
<div class="cell dk" style="left:1011.5px;top:1510px;width:138.5px;height:35.5px;"></div>
<div class="cell" style="left:96px;top:1514px;width:68px;height:26.5px;background:#8fd3f3;filter:blur(1.5px);"></div>
<div class="t" style="left:11.5px;width:240px;top:1519.83px;font-family:'Liberation Sans', 'Noto Sans CJK SC', sans-serif;font-size:18.2px;letter-spacing:-0.55px;color:#000;font-weight:400;line-height:20.93px;height:20.93px">20A OR</div>
<div class="t" style="left:97.0px;width:240px;top:1514.35px;font-family:'Liberation Sans', 'Noto Sans CJK SC', sans-serif;font-size:20.5px;letter-spacing:0.5px;color:#000;font-weight:400;line-height:23.57px;height:23.57px">31.750</div>
<div class="t" style="left:196.5px;width:240px;top:1514.35px;font-family:'Liberation Sans', 'Noto Sans CJK SC', sans-serif;font-size:20.5px;letter-spacing:0.5px;color:#000;font-weight:400;line-height:23.57px;height:23.57px">19.05</div>
<div class="t" style="left:298.8px;width:240px;top:1514.35px;font-family:'Liberation Sans', 'Noto Sans CJK SC', sans-serif;font-size:20.5px;letter-spacing:0.5px;color:#000;font-weight:400;line-height:23.57px;height:23.57px">18.90</div>
<div class="t" style="left:401.0px;width:240px;top:1514.35px;font-family:'Liberation Sans', 'Noto Sans CJK SC', sans-serif;font-size:20.5px;letter-spacing:0.5px;color:#000;font-weight:400;line-height:23.57px;height:23.57px">9.53</div>
<div class="t" style="left:499.8px;width:240px;top:1514.35px;font-family:'Liberation Sans', 'Noto Sans CJK SC', sans-serif;font-size:20.5px;letter-spacing:0.5px;color:#000;font-weight:400;line-height:23.57px;height:23.57px">43.80</div>
<div class="t" style="left:599.0px;width:240px;top:1514.35px;font-family:'Liberation Sans', 'Noto Sans CJK SC', sans-serif;font-size:20.5px;letter-spacing:0.5px;color:#000;font-weight:400;line-height:23.57px;height:23.57px">47.80</div>
<div class="t" style="left:710.8px;width:240px;top:1514.35px;font-family:'Liberation Sans', 'Noto Sans CJK SC', sans-serif;font-size:20.5px;letter-spacing:0.5px;color:#000;font-weight:400;line-height:23.57px;height:23.57px">30.00</div>
<div class="t" style="left:829.5px;width:240px;top:1514.35px;font-family:'Liberation Sans', 'Noto Sans CJK SC', sans-serif;font-size:20.5px;letter-spacing:0.5px;color:#000;font-weight:400;line-height:23.57px;height:23.57px">4.00</div>
<div class="t" style="left:956.2px;width:240px;top:1514.35px;font-family:'Liberation Sans', 'Noto Sans CJK SC', sans-serif;font-size:20.5px;letter-spacing:0.5px;color:#000;font-weight:400;line-height:23.57px;height:23.57px">86.7</div>
<div class="cell lt" style="left:90px;top:1548px;width:81px;height:35px;"></div>
<div class="cell lt" style="left:173px;top:1548px;width:97px;height:35px;"></div>
<div class="cell lt" style="left:272px;top:1548px;width:98px;height:35px;"></div>
<div class="cell lt" style="left:372px;top:1548px;width:102.5px;height:35px;"></div>
<div class="cell lt" style="left:477px;top:1548px;width:97px;height:35px;"></div>
<div class="cell lt" style="left:576px;top:1548px;width:96.5px;height:35px;"></div>
<div class="cell lt" style="left:675px;top:1548px;width:97px;height:35px;"></div>
<div class="cell lt" style="left:774px;top:1548px;width:122.5px;height:35px;"></div>
<div class="cell lt" style="left:899px;top:1548px;width:110px;height:35px;"></div>
<div class="cell lt" style="left:1011.5px;top:1548px;width:138.5px;height:35px;"></div>
<div class="t" style="left:11.5px;width:240px;top:1557.86px;font-family:'Liberation Sans', 'Noto Sans CJK SC', sans-serif;font-size:17.5px;letter-spacing:-1.1px;color:#000;font-weight:400;line-height:20.12px;height:20.12px">C2082 OR</div>
<div class="t" style="left:97.0px;width:240px;top:1552.75px;font-family:'Liberation Sans', 'Noto Sans CJK SC', sans-serif;font-size:20.5px;letter-spacing:0.5px;color:#000;font-weight:400;line-height:23.57px;height:23.57px">50.800</div>
<div class="t" style="left:196.5px;width:240px;top:1552.75px;font-family:'Liberation Sans', 'Noto Sans CJK SC', sans-serif;font-size:20.5px;letter-spacing:0.5px;color:#000;font-weight:400;line-height:23.57px;height:23.57px">28.58</div>
<div class="t" style="left:298.8px;width:240px;top:1552.75px;font-family:'Liberation Sans', 'Noto Sans CJK SC', sans-serif;font-size:20.5px;letter-spacing:0.5px;color:#000;font-weight:400;line-height:23.57px;height:23.57px">15.75</div>
<div class="t" style="left:401.0px;width:240px;top:1552.75px;font-family:'Liberation Sans', 'Noto Sans CJK SC', sans-serif;font-size:20.5px;letter-spacing:0.5px;color:#000;font-weight:400;line-height:23.57px;height:23.57px">7.94</div>
<div class="t" style="left:499.8px;width:240px;top:1552.75px;font-family:'Liberation Sans', 'Noto Sans CJK SC', sans-serif;font-size:20.5px;letter-spacing:0.5px;color:#000;font-weight:400;line-height:23.57px;height:23.57px">36.00</div>
<div class="t" style="left:599.0px;width:240px;top:1552.75px;font-family:'Liberation Sans', 'Noto Sans CJK SC', sans-serif;font-size:20.5px;letter-spacing:0.5px;color:#000;font-weight:400;line-height:23.57px;height:23.57px">38.00</div>
<div class="t" style="left:710.8px;width:240px;top:1552.75px;font-family:'Liberation Sans', 'Noto Sans CJK SC', sans-serif;font-size:20.5px;letter-spacing:0.5px;color:#000;font-weight:400;line-height:23.57px;height:23.57px">24.00</div>
<div class="t" style="left:829.5px;width:240px;top:1552.75px;font-family:'Liberation Sans', 'Noto Sans CJK SC', sans-serif;font-size:20.5px;letter-spacing:0.5px;color:#000;font-weight:400;line-height:23.57px;height:23.57px">3.20</div>
<div class="t" style="left:956.2px;width:240px;top:1552.75px;font-family:'Liberation Sans', 'Noto Sans CJK SC', sans-serif;font-size:20.5px;letter-spacing:0.5px;color:#000;font-weight:400;line-height:23.57px;height:23.57px">60.0</div>
<div class="cell dk" style="left:90px;top:1585px;width:81px;height:35px;"></div>
<div class="cell dk" style="left:173px;top:1585px;width:97px;height:35px;"></div>
<div class="cell dk" style="left:272px;top:1585px;width:98px;height:35px;"></div>
<div class="cell dk" style="left:372px;top:1585px;width:102.5px;height:35px;"></div>
<div class="cell dk" style="left:477px;top:1585px;width:97px;height:35px;"></div>
<div class="cell dk" style="left:576px;top:1585px;width:96.5px;height:35px;"></div>
<div class="cell dk" style="left:675px;top:1585px;width:97px;height:35px;"></div>
<div class="cell dk" style="left:774px;top:1585px;width:122.5px;height:35px;"></div>
<div class="cell dk" style="left:899px;top:1585px;width:110px;height:35px;"></div>
<div class="cell dk" style="left:1011.5px;top:1585px;width:138.5px;height:35px;"></div>
<div class="cell" style="left:96px;top:1589px;width:68px;height:26px;background:#8fd3f3;filter:blur(1.5px);"></div>
<div class="t" style="left:11.5px;width:240px;top:1594.27px;font-family:'Liberation Sans', 'Noto Sans CJK SC', sans-serif;font-size:16.5px;letter-spacing:-1.3px;color:#000;font-weight:400;line-height:18.97px;height:18.97px">C2082H OR</div>
<div class="t" style="left:97.0px;width:240px;top:1591.25px;font-family:'Liberation Sans', 'Noto Sans CJK SC', sans-serif;font-size:20.5px;letter-spacing:0.5px;color:#000;font-weight:400;line-height:23.57px;height:23.57px">50.800</div>
<div class="t" style="left:196.5px;width:240px;top:1591.25px;font-family:'Liberation Sans', 'Noto Sans CJK SC', sans-serif;font-size:20.5px;letter-spacing:0.5px;color:#000;font-weight:400;line-height:23.57px;height:23.57px">28.58</div>
<div class="t" style="left:298.8px;width:240px;top:1591.25px;font-family:'Liberation Sans', 'Noto Sans CJK SC', sans-serif;font-size:20.5px;letter-spacing:0.5px;color:#000;font-weight:400;line-height:23.57px;height:23.57px">15.75</div>
<div class="t" style="left:401.0px;width:240px;top:1591.25px;font-family:'Liberation Sans', 'Noto Sans CJK SC', sans-serif;font-size:20.5px;letter-spacing:0.5px;color:#000;font-weight:400;line-height:23.57px;height:23.57px">7.94</div>
<div class="t" style="left:499.8px;width:240px;top:1591.25px;font-family:'Liberation Sans', 'Noto Sans CJK SC', sans-serif;font-size:20.5px;letter-spacing:0.5px;color:#000;font-weight:400;line-height:23.57px;height:23.57px">39.70</div>
<div class="t" style="left:599.0px;width:240px;top:1591.25px;font-family:'Liberation Sans', 'Noto Sans CJK SC', sans-serif;font-size:20.5px;letter-spacing:0.5px;color:#000;font-weight:400;line-height:23.57px;height:23.57px">41.70</div>
<div class="t" style="left:710.8px;width:240px;top:1591.25px;font-family:'Liberation Sans', 'Noto Sans CJK SC', sans-serif;font-size:20.5px;letter-spacing:0.5px;color:#000;font-weight:400;line-height:23.57px;height:23.57px">24.00</div>
<div class="t" style="left:829.5px;width:240px;top:1591.25px;font-family:'Liberation Sans', 'Noto Sans CJK SC', sans-serif;font-size:20.5px;letter-spacing:0.5px;color:#000;font-weight:400;line-height:23.57px;height:23.57px">4.00</div>
<div class="t" style="left:956.2px;width:240px;top:1591.25px;font-family:'Liberation Sans', 'Noto Sans CJK SC', sans-serif;font-size:20.5px;letter-spacing:0.5px;color:#000;font-weight:400;line-height:23.57px;height:23.57px">65.0</div>
<div class="a" style="left:576px;top:903px;width:56px;height:20px;background:radial-gradient(ellipse 28px 14px at 50% 100%, rgba(120,120,120,0.12) 0, rgba(120,120,120,0.04) 60%, rgba(120,120,120,0) 100%);"></div>
<div class="dots" style="left:0;top:1622.5px;width:90px;height:61px;background-size:6.4px 5.3px;background-position:3.6px 0.3px;"></div>
</body></html>
